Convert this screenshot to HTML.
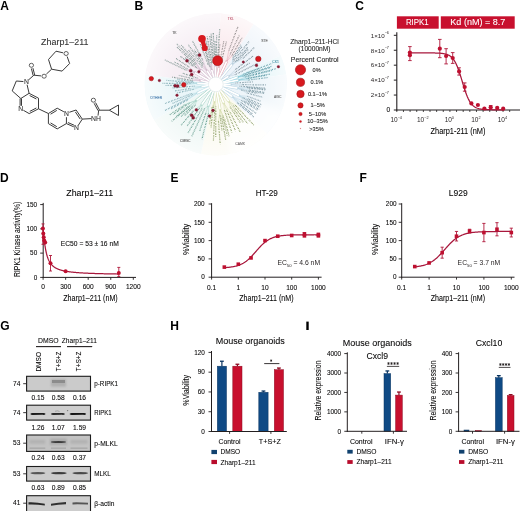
<!DOCTYPE html>
<html><head><meta charset="utf-8"><style>
html,body{margin:0;padding:0;background:#fff;}
svg{display:block;will-change:transform;}
text{font-family:"Liberation Sans",sans-serif;}
</style></head><body>
<svg width="520" height="511" viewBox="0 0 520 511">
<rect width="520" height="511" fill="#fff"/>
<text x="0.30" y="9.90" font-size="12" font-weight="bold" fill="#000" >A</text>
<text x="134.40" y="10.10" font-size="12" font-weight="bold" fill="#000" >B</text>
<text x="355.30" y="10.30" font-size="12" font-weight="bold" fill="#000" >C</text>
<text x="0.00" y="182.30" font-size="12" font-weight="bold" fill="#000" >D</text>
<text x="170.40" y="182.00" font-size="12" font-weight="bold" fill="#000" >E</text>
<text x="359.60" y="182.00" font-size="12" font-weight="bold" fill="#000" >F</text>
<text x="0.20" y="330.10" font-size="12" font-weight="bold" fill="#000" >G</text>
<text x="170.20" y="330.10" font-size="12" font-weight="bold" fill="#000" >H</text>
<rect x="306.30" y="321.60" width="2.40" height="8.40" fill="#000" />
<text x="41.10" y="45.30" font-size="9" textLength="47.40" lengthAdjust="spacingAndGlyphs" fill="#333" stroke="#333" stroke-width="0.08" >Zharp1–211</text>
<line x1="56.00" y1="51.20" x2="62.98" y2="52.79" stroke="#303030" stroke-width="0.95" />
<line x1="67.16" y1="56.52" x2="69.60" y2="63.50" stroke="#303030" stroke-width="0.95" />
<line x1="69.60" y1="63.50" x2="62.10" y2="71.10" stroke="#303030" stroke-width="0.95" />
<line x1="62.10" y1="71.10" x2="51.60" y2="69.20" stroke="#303030" stroke-width="0.95" />
<line x1="51.60" y1="69.20" x2="48.50" y2="59.50" stroke="#303030" stroke-width="0.95" />
<line x1="48.50" y1="59.50" x2="56.00" y2="51.20" stroke="#303030" stroke-width="0.95" />
<line x1="51.60" y1="69.20" x2="46.37" y2="74.08" stroke="#303030" stroke-width="0.95" />
<line x1="41.01" y1="75.90" x2="33.90" y2="75.20" stroke="#303030" stroke-width="0.95" />
<line x1="33.12" y1="75.40" x2="31.38" y2="68.50" stroke="#303030" stroke-width="0.95" />
<line x1="34.68" y1="75.00" x2="32.93" y2="68.11" stroke="#303030" stroke-width="0.95" />
<line x1="33.90" y1="75.20" x2="28.65" y2="79.82" stroke="#303030" stroke-width="0.95" />
<line x1="23.41" y1="81.56" x2="16.30" y2="81.00" stroke="#303030" stroke-width="0.95" />
<line x1="16.30" y1="81.00" x2="12.20" y2="90.90" stroke="#303030" stroke-width="0.95" />
<line x1="12.20" y1="90.90" x2="20.80" y2="98.50" stroke="#303030" stroke-width="0.95" />
<line x1="20.80" y1="98.50" x2="29.10" y2="93.30" stroke="#303030" stroke-width="0.95" />
<line x1="29.10" y1="93.30" x2="27.09" y2="84.72" stroke="#303030" stroke-width="0.95" />
<line x1="29.10" y1="93.30" x2="38.50" y2="98.20" stroke="#303030" stroke-width="0.95" />
<line x1="29.64" y1="95.50" x2="36.38" y2="99.01" stroke="#303030" stroke-width="0.95" />
<line x1="38.50" y1="98.20" x2="38.50" y2="108.80" stroke="#303030" stroke-width="0.95" />
<line x1="38.50" y1="108.80" x2="29.20" y2="113.60" stroke="#303030" stroke-width="0.95" />
<line x1="36.39" y1="107.98" x2="29.75" y2="111.40" stroke="#303030" stroke-width="0.95" />
<line x1="29.20" y1="113.60" x2="23.40" y2="110.29" stroke="#303030" stroke-width="0.95" />
<line x1="20.10" y1="105.80" x2="20.10" y2="98.50" stroke="#303030" stroke-width="0.95" />
<line x1="21.50" y1="105.80" x2="21.50" y2="98.50" stroke="#303030" stroke-width="0.95" />
<line x1="38.50" y1="108.80" x2="48.40" y2="113.50" stroke="#303030" stroke-width="0.95" />
<line x1="48.40" y1="113.50" x2="57.20" y2="108.20" stroke="#303030" stroke-width="0.95" />
<line x1="50.56" y1="114.18" x2="56.79" y2="110.43" stroke="#303030" stroke-width="0.95" />
<line x1="57.20" y1="108.20" x2="63.86" y2="111.78" stroke="#303030" stroke-width="0.95" />
<line x1="66.46" y1="117.20" x2="66.40" y2="123.60" stroke="#303030" stroke-width="0.95" />
<line x1="66.40" y1="123.60" x2="57.20" y2="128.90" stroke="#303030" stroke-width="0.95" />
<line x1="57.20" y1="128.90" x2="48.40" y2="123.60" stroke="#303030" stroke-width="0.95" />
<line x1="56.79" y1="126.67" x2="50.56" y2="122.92" stroke="#303030" stroke-width="0.95" />
<line x1="48.40" y1="123.60" x2="48.40" y2="113.50" stroke="#303030" stroke-width="0.95" />
<line x1="69.35" y1="112.25" x2="76.10" y2="110.00" stroke="#303030" stroke-width="0.95" />
<line x1="76.10" y1="110.00" x2="82.30" y2="119.10" stroke="#303030" stroke-width="0.95" />
<line x1="75.37" y1="111.95" x2="80.22" y2="119.07" stroke="#303030" stroke-width="0.95" />
<line x1="82.30" y1="119.10" x2="78.14" y2="125.49" stroke="#303030" stroke-width="0.95" />
<line x1="73.75" y1="126.80" x2="66.40" y2="123.60" stroke="#303030" stroke-width="0.95" />
<line x1="74.21" y1="125.26" x2="67.96" y2="122.53" stroke="#303030" stroke-width="0.95" />
<line x1="82.30" y1="119.10" x2="91.30" y2="118.60" stroke="#303030" stroke-width="0.95" />
<line x1="98.00" y1="115.60" x2="98.70" y2="110.20" stroke="#303030" stroke-width="0.95" />
<line x1="97.99" y1="110.57" x2="94.14" y2="103.31" stroke="#303030" stroke-width="0.95" />
<line x1="99.41" y1="109.83" x2="95.56" y2="102.56" stroke="#303030" stroke-width="0.95" />
<line x1="98.70" y1="110.20" x2="109.30" y2="110.20" stroke="#303030" stroke-width="0.95" />
<line x1="109.30" y1="110.20" x2="118.50" y2="105.00" stroke="#303030" stroke-width="0.95" />
<line x1="118.50" y1="105.00" x2="118.50" y2="115.50" stroke="#303030" stroke-width="0.95" />
<line x1="118.50" y1="115.50" x2="109.30" y2="110.20" stroke="#303030" stroke-width="0.95" />
<text x="26.40" y="84.15" font-size="6.8" text-anchor="middle" fill="#333" stroke="#333" stroke-width="0.08" >N</text>
<text x="20.80" y="111.15" font-size="6.8" text-anchor="middle" fill="#333" stroke="#333" stroke-width="0.08" >N</text>
<text x="66.50" y="115.55" font-size="6.8" text-anchor="middle" fill="#333" stroke="#333" stroke-width="0.08" >N</text>
<text x="76.50" y="130.35" font-size="6.8" text-anchor="middle" fill="#333" stroke="#333" stroke-width="0.08" >N</text>
<ellipse cx="66.10" cy="53.50" rx="2.15" ry="2.0" fill="none" stroke="#3a3a3a" stroke-width="0.8"/>
<ellipse cx="31.40" cy="65.30" rx="2.15" ry="2.0" fill="none" stroke="#3a3a3a" stroke-width="0.8"/>
<ellipse cx="44.10" cy="76.20" rx="2.15" ry="2.0" fill="none" stroke="#3a3a3a" stroke-width="0.8"/>
<ellipse cx="93.40" cy="100.20" rx="2.15" ry="2.0" fill="none" stroke="#3a3a3a" stroke-width="0.8"/>
<text x="96.00" y="120.95" font-size="6.8" text-anchor="middle" fill="#333" stroke="#333" stroke-width="0.08" >NH</text>
<rect x="396.90" y="16.30" width="41.80" height="12.40" fill="#c8102e" />
<rect x="440.80" y="16.30" width="73.90" height="12.40" fill="#c8102e" />
<text x="417.30" y="25.47" font-size="8.9" text-anchor="middle" textLength="22.80" lengthAdjust="spacingAndGlyphs" fill="#fff" stroke="#fff" stroke-width="0.08" >RIPK1</text>
<text x="477.80" y="25.47" font-size="8.9" text-anchor="middle" textLength="54.90" lengthAdjust="spacingAndGlyphs" fill="#fff" stroke="#fff" stroke-width="0.08" >Kd (nM) = 8.7</text>
<line x1="396.80" y1="32.30" x2="396.80" y2="110.50" stroke="#231f20" stroke-width="1.1" />
<line x1="396.30" y1="110.00" x2="520.00" y2="110.00" stroke="#231f20" stroke-width="1.1" />
<line x1="393.80" y1="35.30" x2="396.80" y2="35.30" stroke="#231f20" stroke-width="1.0" />
<text x="389.0" y="37.60" font-size="6.2" text-anchor="end" fill="#231f20">1×10<tspan font-size="3.8" dy="-3.3">−6</tspan></text>
<line x1="393.80" y1="50.24" x2="396.80" y2="50.24" stroke="#231f20" stroke-width="1.0" />
<text x="389.0" y="52.54" font-size="6.2" text-anchor="end" fill="#231f20">8×10<tspan font-size="3.8" dy="-3.3">−7</tspan></text>
<line x1="393.80" y1="65.18" x2="396.80" y2="65.18" stroke="#231f20" stroke-width="1.0" />
<text x="389.0" y="67.48" font-size="6.2" text-anchor="end" fill="#231f20">6×10<tspan font-size="3.8" dy="-3.3">−7</tspan></text>
<line x1="393.80" y1="80.12" x2="396.80" y2="80.12" stroke="#231f20" stroke-width="1.0" />
<text x="389.0" y="82.42" font-size="6.2" text-anchor="end" fill="#231f20">4×10<tspan font-size="3.8" dy="-3.3">−7</tspan></text>
<line x1="393.80" y1="95.06" x2="396.80" y2="95.06" stroke="#231f20" stroke-width="1.0" />
<text x="389.0" y="97.36" font-size="6.2" text-anchor="end" fill="#231f20">2×10<tspan font-size="3.8" dy="-3.3">−7</tspan></text>
<line x1="393.80" y1="110.00" x2="396.80" y2="110.00" stroke="#231f20" stroke-width="1.0" />
<text x="390.20" y="111.74" font-size="6.5" text-anchor="end" stroke="#231f20" stroke-width="0.08" >0</text>
<line x1="396.80" y1="110.00" x2="396.80" y2="112.00" stroke="#231f20" stroke-width="0.8" />
<line x1="403.44" y1="110.00" x2="403.44" y2="112.00" stroke="#231f20" stroke-width="0.8" />
<line x1="410.08" y1="110.00" x2="410.08" y2="112.00" stroke="#231f20" stroke-width="0.8" />
<line x1="416.72" y1="110.00" x2="416.72" y2="112.00" stroke="#231f20" stroke-width="0.8" />
<line x1="423.36" y1="110.00" x2="423.36" y2="112.00" stroke="#231f20" stroke-width="0.8" />
<line x1="430.00" y1="110.00" x2="430.00" y2="112.00" stroke="#231f20" stroke-width="0.8" />
<line x1="436.64" y1="110.00" x2="436.64" y2="112.00" stroke="#231f20" stroke-width="0.8" />
<line x1="443.28" y1="110.00" x2="443.28" y2="112.00" stroke="#231f20" stroke-width="0.8" />
<line x1="449.92" y1="110.00" x2="449.92" y2="112.00" stroke="#231f20" stroke-width="0.8" />
<line x1="456.56" y1="110.00" x2="456.56" y2="112.00" stroke="#231f20" stroke-width="0.8" />
<line x1="463.20" y1="110.00" x2="463.20" y2="112.00" stroke="#231f20" stroke-width="0.8" />
<line x1="469.84" y1="110.00" x2="469.84" y2="112.00" stroke="#231f20" stroke-width="0.8" />
<line x1="476.48" y1="110.00" x2="476.48" y2="112.00" stroke="#231f20" stroke-width="0.8" />
<line x1="483.12" y1="110.00" x2="483.12" y2="112.00" stroke="#231f20" stroke-width="0.8" />
<line x1="489.76" y1="110.00" x2="489.76" y2="112.00" stroke="#231f20" stroke-width="0.8" />
<line x1="496.40" y1="110.00" x2="496.40" y2="112.00" stroke="#231f20" stroke-width="0.8" />
<line x1="503.04" y1="110.00" x2="503.04" y2="112.00" stroke="#231f20" stroke-width="0.8" />
<line x1="509.68" y1="110.00" x2="509.68" y2="112.00" stroke="#231f20" stroke-width="0.8" />
<text x="396.20" y="121.70" font-size="6.5" text-anchor="middle" fill="#231f20">10<tspan font-size="3.8" dy="-3.1">−4</tspan></text>
<text x="422.76" y="121.70" font-size="6.5" text-anchor="middle" fill="#231f20">10<tspan font-size="3.8" dy="-3.1">−2</tspan></text>
<text x="449.32" y="121.70" font-size="6.5" text-anchor="middle" fill="#231f20">10<tspan font-size="3.8" dy="-3.1">0</tspan></text>
<text x="475.88" y="121.70" font-size="6.5" text-anchor="middle" fill="#231f20">10<tspan font-size="3.8" dy="-3.1">2</tspan></text>
<text x="502.44" y="121.70" font-size="6.5" text-anchor="middle" fill="#231f20">10<tspan font-size="3.8" dy="-3.1">4</tspan></text>
<text x="458.00" y="133.73" font-size="8.2" text-anchor="middle" textLength="55.00" lengthAdjust="spacingAndGlyphs" stroke="#231f20" stroke-width="0.08" >Zharp1-211 (nM)</text>
<path d="M409.00,52.90 L409.68,52.90 L410.36,52.90 L411.04,52.90 L411.71,52.90 L412.39,52.90 L413.07,52.90 L413.75,52.90 L414.43,52.90 L415.11,52.90 L415.79,52.90 L416.46,52.90 L417.14,52.90 L417.82,52.90 L418.50,52.90 L419.18,52.90 L419.86,52.90 L420.54,52.90 L421.21,52.90 L421.89,52.90 L422.57,52.91 L423.25,52.91 L423.93,52.91 L424.61,52.91 L425.29,52.91 L425.96,52.91 L426.64,52.91 L427.32,52.92 L428.00,52.92 L428.68,52.92 L429.36,52.93 L430.04,52.93 L430.71,52.94 L431.39,52.94 L432.07,52.95 L432.75,52.96 L433.43,52.97 L434.11,52.98 L434.79,52.99 L435.46,53.01 L436.14,53.03 L436.82,53.05 L437.50,53.07 L438.18,53.10 L438.86,53.14 L439.54,53.18 L440.21,53.23 L440.89,53.28 L441.57,53.35 L442.25,53.42 L442.93,53.51 L443.61,53.62 L444.29,53.74 L444.96,53.88 L445.64,54.05 L446.32,54.24 L447.00,54.46 L447.68,54.73 L448.36,55.03 L449.04,55.38 L449.71,55.79 L450.39,56.26 L451.07,56.79 L451.75,57.41 L452.43,58.12 L453.11,58.93 L453.79,59.84 L454.46,60.87 L455.14,62.02 L455.82,63.31 L456.50,64.73 L457.18,66.29 L457.86,67.99 L458.54,69.82 L459.21,71.77 L459.89,73.83 L460.57,75.98 L461.25,78.19 L461.93,80.44 L462.61,82.71 L463.29,84.95 L463.96,87.16 L464.64,89.29 L465.32,91.33 L466.00,93.25 L466.68,95.06 L467.36,96.73 L468.04,98.26 L468.71,99.66 L469.39,100.92 L470.07,102.05 L470.75,103.05 L471.43,103.94 L472.11,104.73 L472.79,105.42 L473.46,106.02 L474.14,106.54 L474.82,107.00 L475.50,107.39 L476.18,107.74 L476.86,108.03 L477.54,108.28 L478.21,108.50 L478.89,108.69 L479.57,108.85 L480.25,108.99 L480.93,109.11 L481.61,109.21 L482.29,109.29 L482.96,109.37 L483.64,109.43 L484.32,109.48 L485.00,109.53 L485.68,109.57 L486.36,109.60 L487.04,109.63 L487.71,109.66 L488.39,109.68 L489.07,109.70 L489.75,109.71 L490.43,109.72 L491.11,109.74 L491.79,109.75 L492.46,109.75 L493.14,109.76 L493.82,109.77 L494.50,109.77 L495.18,109.78 L495.86,109.78 L496.54,109.78 L497.21,109.78 L497.89,109.79 L498.57,109.79 L499.25,109.79 L499.93,109.79 L500.61,109.79 L501.29,109.79 L501.96,109.79 L502.64,109.80 L503.32,109.80 L504.00,109.80" stroke="#a8173c" stroke-width="1.25" fill="none" />
<line x1="409.90" y1="46.60" x2="409.90" y2="60.60" stroke="#b0173a" stroke-width="0.9" />
<line x1="408.10" y1="46.60" x2="411.70" y2="46.60" stroke="#b0173a" stroke-width="0.9" />
<line x1="408.10" y1="60.60" x2="411.70" y2="60.60" stroke="#b0173a" stroke-width="0.9" />
<circle cx="409.90" cy="52.60" r="2.10" fill="#be1030" />
<circle cx="409.90" cy="55.20" r="2.10" fill="#be1030" />
<line x1="439.80" y1="39.40" x2="439.80" y2="57.70" stroke="#b0173a" stroke-width="0.9" />
<line x1="438.00" y1="39.40" x2="441.60" y2="39.40" stroke="#b0173a" stroke-width="0.9" />
<line x1="438.00" y1="57.70" x2="441.60" y2="57.70" stroke="#b0173a" stroke-width="0.9" />
<circle cx="439.80" cy="48.70" r="2.10" fill="#be1030" />
<line x1="446.10" y1="48.70" x2="446.10" y2="63.90" stroke="#b0173a" stroke-width="0.9" />
<line x1="444.30" y1="48.70" x2="447.90" y2="48.70" stroke="#b0173a" stroke-width="0.9" />
<line x1="444.30" y1="63.90" x2="447.90" y2="63.90" stroke="#b0173a" stroke-width="0.9" />
<circle cx="446.10" cy="56.00" r="2.10" fill="#be1030" />
<line x1="452.70" y1="52.60" x2="452.70" y2="63.40" stroke="#b0173a" stroke-width="0.9" />
<line x1="450.90" y1="52.60" x2="454.50" y2="52.60" stroke="#b0173a" stroke-width="0.9" />
<line x1="450.90" y1="63.40" x2="454.50" y2="63.40" stroke="#b0173a" stroke-width="0.9" />
<circle cx="452.70" cy="58.00" r="2.10" fill="#be1030" />
<line x1="459.10" y1="67.80" x2="459.10" y2="75.10" stroke="#b0173a" stroke-width="0.9" />
<line x1="457.30" y1="67.80" x2="460.90" y2="67.80" stroke="#b0173a" stroke-width="0.9" />
<line x1="457.30" y1="75.10" x2="460.90" y2="75.10" stroke="#b0173a" stroke-width="0.9" />
<circle cx="459.10" cy="71.40" r="2.10" fill="#be1030" />
<line x1="464.70" y1="82.90" x2="464.70" y2="91.20" stroke="#b0173a" stroke-width="0.9" />
<line x1="462.90" y1="82.90" x2="466.50" y2="82.90" stroke="#b0173a" stroke-width="0.9" />
<line x1="462.90" y1="91.20" x2="466.50" y2="91.20" stroke="#b0173a" stroke-width="0.9" />
<circle cx="464.70" cy="87.00" r="2.10" fill="#be1030" />
<circle cx="471.40" cy="103.40" r="2.10" fill="#be1030" />
<circle cx="477.90" cy="105.00" r="2.10" fill="#be1030" />
<circle cx="484.40" cy="108.50" r="2.10" fill="#be1030" />
<line x1="490.70" y1="105.50" x2="490.70" y2="109.00" stroke="#b0173a" stroke-width="0.9" />
<line x1="488.90" y1="105.50" x2="492.50" y2="105.50" stroke="#b0173a" stroke-width="0.9" />
<line x1="488.90" y1="109.00" x2="492.50" y2="109.00" stroke="#b0173a" stroke-width="0.9" />
<circle cx="490.70" cy="107.30" r="2.10" fill="#be1030" />
<circle cx="497.20" cy="107.90" r="2.10" fill="#be1030" />
<circle cx="503.20" cy="108.70" r="2.10" fill="#be1030" />
<text x="89.70" y="196.10" font-size="9" text-anchor="middle" textLength="46.80" lengthAdjust="spacingAndGlyphs" stroke="#231f20" stroke-width="0.08" >Zharp1–211</text>
<line x1="43.20" y1="202.90" x2="43.20" y2="277.90" stroke="#231f20" stroke-width="1.0" />
<line x1="42.70" y1="277.40" x2="136.00" y2="277.40" stroke="#231f20" stroke-width="1.0" />
<line x1="40.20" y1="204.57" x2="43.20" y2="204.57" stroke="#231f20" stroke-width="0.9" />
<text x="37.20" y="206.78" font-size="6.4" text-anchor="end" stroke="#231f20" stroke-width="0.08" >150</text>
<line x1="40.20" y1="228.85" x2="43.20" y2="228.85" stroke="#231f20" stroke-width="0.9" />
<text x="37.20" y="231.06" font-size="6.4" text-anchor="end" stroke="#231f20" stroke-width="0.08" >100</text>
<line x1="40.20" y1="253.12" x2="43.20" y2="253.12" stroke="#231f20" stroke-width="0.9" />
<text x="37.20" y="255.33" font-size="6.4" text-anchor="end" stroke="#231f20" stroke-width="0.08" >50</text>
<line x1="40.20" y1="277.40" x2="43.20" y2="277.40" stroke="#231f20" stroke-width="0.9" />
<text x="37.20" y="279.61" font-size="6.4" text-anchor="end" stroke="#231f20" stroke-width="0.08" >0</text>
<line x1="43.10" y1="277.40" x2="43.10" y2="279.80" stroke="#231f20" stroke-width="0.9" />
<text x="43.10" y="288.58" font-size="6.6" text-anchor="middle" stroke="#231f20" stroke-width="0.08" >0</text>
<line x1="65.65" y1="277.40" x2="65.65" y2="279.80" stroke="#231f20" stroke-width="0.9" />
<text x="65.65" y="288.58" font-size="6.6" text-anchor="middle" stroke="#231f20" stroke-width="0.08" >300</text>
<line x1="88.20" y1="277.40" x2="88.20" y2="279.80" stroke="#231f20" stroke-width="0.9" />
<text x="88.20" y="288.58" font-size="6.6" text-anchor="middle" stroke="#231f20" stroke-width="0.08" >600</text>
<line x1="110.75" y1="277.40" x2="110.75" y2="279.80" stroke="#231f20" stroke-width="0.9" />
<text x="110.75" y="288.58" font-size="6.6" text-anchor="middle" stroke="#231f20" stroke-width="0.08" >900</text>
<line x1="133.30" y1="277.40" x2="133.30" y2="279.80" stroke="#231f20" stroke-width="0.9" />
<text x="133.30" y="288.58" font-size="6.6" text-anchor="middle" stroke="#231f20" stroke-width="0.08" >1200</text>
<text x="90.50" y="301.43" font-size="8.2" text-anchor="middle" textLength="54.50" lengthAdjust="spacingAndGlyphs" stroke="#231f20" stroke-width="0.08" >Zharp1–211 (nM)</text>
<text x="17.00" y="242.20" font-size="8.4" text-anchor="middle" textLength="75.20" lengthAdjust="spacingAndGlyphs" stroke="#231f20" stroke-width="0.08" transform="rotate(-90 17.00 239.30)" >RIPK1 Kinase activity(%)</text>
<text x="60.80" y="245.95" font-size="6.8" textLength="58.00" lengthAdjust="spacingAndGlyphs" stroke="#231f20" stroke-width="0.08" >EC50 = 53 ± 16 nM</text>
<path d="M43.10,228.85 L43.10,228.85 L43.10,228.86 L43.11,228.88 L43.11,228.92 L43.12,228.97 L43.13,229.03 L43.14,229.11 L43.15,229.21 L43.17,229.33 L43.18,229.47 L43.20,229.62 L43.22,229.80 L43.24,230.00 L43.26,230.21 L43.29,230.45 L43.31,230.71 L43.34,230.98 L43.37,231.28 L43.40,231.60 L43.43,231.93 L43.47,232.29 L43.50,232.66 L43.54,233.05 L43.58,233.45 L43.62,233.88 L43.66,234.31 L43.71,234.77 L43.75,235.23 L43.80,235.71 L43.85,236.20 L43.90,236.70 L43.96,237.20 L44.01,237.72 L44.07,238.25 L44.12,238.78 L44.18,239.31 L44.24,239.86 L44.31,240.40 L44.37,240.95 L44.44,241.50 L44.50,242.05 L44.57,242.60 L44.64,243.15 L44.72,243.70 L44.79,244.25 L44.87,244.80 L44.95,245.34 L45.02,245.88 L45.11,246.41 L45.19,246.94 L45.27,247.47 L45.36,247.99 L45.45,248.50 L45.54,249.01 L45.63,249.51 L45.72,250.01 L45.81,250.49 L45.91,250.97 L46.01,251.45 L46.11,251.91 L46.21,252.37 L46.31,252.82 L46.41,253.26 L46.52,253.69 L46.63,254.12 L46.74,254.54 L46.85,254.95 L46.96,255.35 L47.08,255.74 L47.19,256.13 L47.31,256.51 L47.43,256.88 L47.55,257.24 L47.67,257.60 L47.80,257.94 L47.92,258.28 L48.05,258.62 L48.18,258.94 L48.31,259.26 L48.45,259.57 L48.58,259.87 L48.72,260.17 L48.85,260.46 L48.99,260.75 L49.13,261.03 L49.28,261.30 L49.42,261.56 L49.57,261.82 L49.72,262.08 L49.87,262.32 L50.02,262.56 L50.17,262.80 L50.32,263.03 L50.48,263.26 L50.64,263.48 L50.80,263.69 L50.96,263.90 L51.12,264.11 L51.29,264.31 L51.45,264.51 L51.62,264.70 L51.79,264.89 L51.96,265.07 L52.13,265.25 L52.31,265.42 L52.48,265.60 L52.66,265.76 L52.84,265.93 L53.02,266.09 L53.21,266.24 L53.39,266.40 L53.58,266.54 L53.76,266.69 L53.95,266.83 L54.15,266.97 L54.34,267.11 L54.53,267.24 L54.73,267.37 L54.93,267.50 L55.13,267.63 L55.33,267.75 L55.53,267.87 L55.74,267.98 L55.94,268.10 L56.15,268.21 L56.36,268.32 L56.57,268.43 L56.78,268.53 L57.00,268.64 L57.22,268.74 L57.43,268.83 L57.65,268.93 L57.87,269.03 L58.10,269.12 L58.32,269.21 L58.55,269.30 L58.78,269.38 L59.01,269.47 L59.24,269.55 L59.47,269.63 L59.71,269.71 L59.94,269.79 L60.18,269.87 L60.42,269.95 L60.66,270.02 L60.90,270.09 L61.15,270.16 L61.39,270.23 L61.64,270.30 L61.89,270.37 L62.14,270.43 L62.40,270.50 L62.65,270.56 L62.91,270.62 L63.17,270.68 L63.43,270.74 L63.69,270.80 L63.95,270.86 L64.22,270.92 L64.48,270.97 L64.75,271.03 L65.02,271.08 L65.29,271.13 L65.56,271.18 L65.84,271.23 L66.12,271.28 L66.39,271.33 L66.67,271.38 L66.95,271.43 L67.24,271.47 L67.52,271.52 L67.81,271.56 L68.10,271.61 L68.39,271.65 L68.68,271.69 L68.97,271.73 L69.27,271.77 L69.56,271.81 L69.86,271.85 L70.16,271.89 L70.46,271.93 L70.77,271.97 L71.07,272.00 L71.38,272.04 L71.69,272.07 L72.00,272.11 L72.31,272.14 L72.62,272.18 L72.93,272.21 L73.25,272.24 L73.57,272.28 L73.89,272.31 L74.21,272.34 L74.53,272.37 L74.86,272.40 L75.19,272.43 L75.51,272.46 L75.84,272.49 L76.18,272.52 L76.51,272.54 L76.84,272.57 L77.18,272.60 L77.52,272.62 L77.86,272.65 L78.20,272.68 L78.54,272.70 L78.89,272.73 L79.24,272.75 L79.58,272.78 L79.93,272.80 L80.28,272.82 L80.64,272.85 L80.99,272.87 L81.35,272.89 L81.71,272.91 L82.07,272.93 L82.43,272.96 L82.79,272.98 L83.16,273.00 L83.52,273.02 L83.89,273.04 L84.26,273.06 L84.63,273.08 L85.01,273.10 L85.38,273.12 L85.76,273.14 L86.14,273.15 L86.52,273.17 L86.90,273.19 L87.28,273.21 L87.67,273.23 L88.06,273.24 L88.44,273.26 L88.83,273.28 L89.23,273.29 L89.62,273.31 L90.01,273.33 L90.41,273.34 L90.81,273.36 L91.21,273.37 L91.61,273.39 L92.01,273.40 L92.42,273.42 L92.83,273.43 L93.23,273.45 L93.64,273.46 L94.06,273.48 L94.47,273.49 L94.88,273.51 L95.30,273.52 L95.72,273.53 L96.14,273.55 L96.56,273.56 L96.99,273.57 L97.41,273.58 L97.84,273.60 L98.27,273.61 L98.70,273.62 L99.13,273.63 L99.56,273.65 L100.00,273.66 L100.43,273.67 L100.87,273.68 L101.31,273.69 L101.75,273.70 L102.20,273.71 L102.64,273.73 L103.09,273.74 L103.54,273.75 L103.99,273.76 L104.44,273.77 L104.89,273.78 L105.35,273.79 L105.81,273.80 L106.26,273.81 L106.72,273.82 L107.19,273.83 L107.65,273.84 L108.11,273.85 L108.58,273.86 L109.05,273.87 L109.52,273.87 L109.99,273.88 L110.47,273.89 L110.94,273.90 L111.42,273.91 L111.90,273.92 L112.38,273.93 L112.86,273.94 L113.34,273.94 L113.83,273.95 L114.31,273.96 L114.80,273.97 L115.29,273.98 L115.79,273.99 L116.28,273.99 L116.77,274.00 L117.27,274.01 L117.77,274.02 L118.27,274.02" stroke="#a8173c" stroke-width="1.25" fill="none" />
<line x1="43.00" y1="223.90" x2="43.00" y2="244.30" stroke="#b0173a" stroke-width="0.9" />
<line x1="41.50" y1="223.90" x2="44.50" y2="223.90" stroke="#b0173a" stroke-width="0.9" />
<line x1="41.50" y1="244.30" x2="44.50" y2="244.30" stroke="#b0173a" stroke-width="0.9" />
<line x1="50.50" y1="255.50" x2="50.50" y2="271.00" stroke="#b0173a" stroke-width="0.9" />
<line x1="49.00" y1="255.50" x2="52.00" y2="255.50" stroke="#b0173a" stroke-width="0.9" />
<line x1="49.00" y1="271.00" x2="52.00" y2="271.00" stroke="#b0173a" stroke-width="0.9" />
<line x1="118.80" y1="267.40" x2="118.80" y2="276.50" stroke="#b0173a" stroke-width="0.9" />
<line x1="117.30" y1="267.40" x2="120.30" y2="267.40" stroke="#b0173a" stroke-width="0.9" />
<line x1="117.30" y1="276.50" x2="120.30" y2="276.50" stroke="#b0173a" stroke-width="0.9" />
<circle cx="42.90" cy="228.40" r="2.00" fill="#be1030" />
<circle cx="43.30" cy="233.50" r="2.00" fill="#be1030" />
<circle cx="43.70" cy="237.30" r="2.00" fill="#be1030" />
<circle cx="44.20" cy="240.50" r="2.00" fill="#be1030" />
<circle cx="45.20" cy="242.40" r="2.00" fill="#be1030" />
<circle cx="50.50" cy="263.20" r="2.00" fill="#be1030" />
<circle cx="65.60" cy="271.30" r="2.00" fill="#be1030" />
<circle cx="118.80" cy="273.10" r="2.00" fill="#be1030" />
<text x="266.80" y="195.66" font-size="9" text-anchor="middle" textLength="22.20" lengthAdjust="spacingAndGlyphs" stroke="#231f20" stroke-width="0.08" >HT-29</text>
<line x1="211.60" y1="203.20" x2="211.60" y2="277.70" stroke="#231f20" stroke-width="1.0" />
<line x1="211.10" y1="277.20" x2="321.60" y2="277.20" stroke="#231f20" stroke-width="1.0" />
<line x1="208.60" y1="277.20" x2="211.60" y2="277.20" stroke="#231f20" stroke-width="0.9" />
<text x="204.70" y="279.41" font-size="6.4" text-anchor="end" stroke="#231f20" stroke-width="0.08" >0</text>
<line x1="208.60" y1="258.90" x2="211.60" y2="258.90" stroke="#231f20" stroke-width="0.9" />
<text x="204.70" y="261.11" font-size="6.4" text-anchor="end" stroke="#231f20" stroke-width="0.08" >50</text>
<line x1="208.60" y1="240.60" x2="211.60" y2="240.60" stroke="#231f20" stroke-width="0.9" />
<text x="204.70" y="242.81" font-size="6.4" text-anchor="end" stroke="#231f20" stroke-width="0.08" >100</text>
<line x1="208.60" y1="222.30" x2="211.60" y2="222.30" stroke="#231f20" stroke-width="0.9" />
<text x="204.70" y="224.51" font-size="6.4" text-anchor="end" stroke="#231f20" stroke-width="0.08" >150</text>
<line x1="208.60" y1="204.00" x2="211.60" y2="204.00" stroke="#231f20" stroke-width="0.9" />
<text x="204.70" y="206.21" font-size="6.4" text-anchor="end" stroke="#231f20" stroke-width="0.08" >200</text>
<line x1="211.60" y1="277.20" x2="211.60" y2="279.60" stroke="#231f20" stroke-width="0.9" />
<text x="211.60" y="290.18" font-size="6.6" text-anchor="middle" stroke="#231f20" stroke-width="0.08" >0.1</text>
<line x1="238.30" y1="277.20" x2="238.30" y2="279.60" stroke="#231f20" stroke-width="0.9" />
<text x="238.30" y="290.18" font-size="6.6" text-anchor="middle" stroke="#231f20" stroke-width="0.08" >1</text>
<line x1="265.00" y1="277.20" x2="265.00" y2="279.60" stroke="#231f20" stroke-width="0.9" />
<text x="265.00" y="290.18" font-size="6.6" text-anchor="middle" stroke="#231f20" stroke-width="0.08" >10</text>
<line x1="291.70" y1="277.20" x2="291.70" y2="279.60" stroke="#231f20" stroke-width="0.9" />
<text x="291.70" y="290.18" font-size="6.6" text-anchor="middle" stroke="#231f20" stroke-width="0.08" >100</text>
<line x1="318.40" y1="277.20" x2="318.40" y2="279.60" stroke="#231f20" stroke-width="0.9" />
<text x="318.40" y="290.18" font-size="6.6" text-anchor="middle" stroke="#231f20" stroke-width="0.08" >1000</text>
<text x="266.40" y="301.23" font-size="8.2" text-anchor="middle" textLength="54.20" lengthAdjust="spacingAndGlyphs" stroke="#231f20" stroke-width="0.08" >Zharp1–211 (nM)</text>
<text x="186.00" y="242.50" font-size="9.0" text-anchor="middle" textLength="31.20" lengthAdjust="spacingAndGlyphs" stroke="#231f20" stroke-width="0.08" transform="rotate(-90 186.00 239.40)" >%Viability</text>
<text x="277.40" y="265.00" font-size="6.8" fill="#231f20">EC<tspan font-size="4.2" dy="1.6">50</tspan><tspan dy="-1.6"> = 4.6 nM</tspan></text>
<path d="M224.34,267.63 L225.12,267.59 L225.91,267.53 L226.69,267.48 L227.47,267.41 L228.26,267.34 L229.04,267.26 L229.83,267.17 L230.61,267.08 L231.39,266.97 L232.18,266.85 L232.96,266.72 L233.75,266.57 L234.53,266.41 L235.31,266.24 L236.10,266.04 L236.88,265.83 L237.66,265.59 L238.45,265.33 L239.23,265.05 L240.02,264.74 L240.80,264.41 L241.58,264.04 L242.37,263.64 L243.15,263.21 L243.94,262.75 L244.72,262.25 L245.50,261.71 L246.29,261.14 L247.07,260.53 L247.85,259.88 L248.64,259.19 L249.42,258.47 L250.21,257.72 L250.99,256.93 L251.77,256.12 L252.56,255.27 L253.34,254.41 L254.13,253.53 L254.91,252.64 L255.69,251.74 L256.48,250.84 L257.26,249.95 L258.04,249.06 L258.83,248.18 L259.61,247.33 L260.40,246.49 L261.18,245.68 L261.96,244.90 L262.75,244.16 L263.53,243.44 L264.32,242.77 L265.10,242.13 L265.88,241.52 L266.67,240.96 L267.45,240.43 L268.23,239.94 L269.02,239.48 L269.80,239.06 L270.59,238.67 L271.37,238.31 L272.15,237.98 L272.94,237.68 L273.72,237.40 L274.50,237.15 L275.29,236.92 L276.07,236.71 L276.86,236.52 L277.64,236.34 L278.42,236.19 L279.21,236.04 L279.99,235.92 L280.78,235.80 L281.56,235.69 L282.34,235.60 L283.13,235.51 L283.91,235.44 L284.69,235.37 L285.48,235.30 L286.26,235.25 L287.05,235.20 L287.83,235.15 L288.61,235.11 L289.40,235.07 L290.18,235.04 L290.97,235.01 L291.75,234.98 L292.53,234.96 L293.32,234.94 L294.10,234.92 L294.88,234.90 L295.67,234.88 L296.45,234.87 L297.24,234.86 L298.02,234.84 L298.80,234.83 L299.59,234.83 L300.37,234.82 L301.16,234.81 L301.94,234.80 L302.72,234.80 L303.51,234.79 L304.29,234.79 L305.07,234.78 L305.86,234.78 L306.64,234.77 L307.43,234.77 L308.21,234.77 L308.99,234.77 L309.78,234.76 L310.56,234.76 L311.35,234.76 L312.13,234.76 L312.91,234.76 L313.70,234.76 L314.48,234.75 L315.26,234.75 L316.05,234.75 L316.83,234.75 L317.62,234.75 L318.40,234.75" stroke="#a8173c" stroke-width="1.25" fill="none" />
<rect x="222.54" y="265.30" width="3.60" height="3.60" fill="#be1030" />
<rect x="236.50" y="262.41" width="3.60" height="3.60" fill="#be1030" />
<rect x="249.24" y="256.11" width="3.60" height="3.60" fill="#be1030" />
<rect x="263.20" y="238.80" width="3.60" height="3.60" fill="#be1030" />
<rect x="275.94" y="234.41" width="3.60" height="3.60" fill="#be1030" />
<rect x="289.90" y="233.68" width="3.60" height="3.60" fill="#be1030" />
<line x1="304.44" y1="232.55" x2="304.44" y2="235.48" stroke="#b0173a" stroke-width="0.9" />
<line x1="302.84" y1="232.55" x2="306.04" y2="232.55" stroke="#b0173a" stroke-width="0.9" />
<line x1="302.84" y1="235.48" x2="306.04" y2="235.48" stroke="#b0173a" stroke-width="0.9" />
<rect x="302.64" y="232.21" width="3.60" height="3.60" fill="#be1030" />
<rect x="302.64" y="234.04" width="3.60" height="3.60" fill="#be1030" />
<line x1="318.40" y1="233.39" x2="318.40" y2="235.59" stroke="#b0173a" stroke-width="0.9" />
<line x1="316.80" y1="233.39" x2="320.00" y2="233.39" stroke="#b0173a" stroke-width="0.9" />
<line x1="316.80" y1="235.59" x2="320.00" y2="235.59" stroke="#b0173a" stroke-width="0.9" />
<rect x="316.60" y="232.69" width="3.60" height="3.60" fill="#be1030" />
<rect x="316.60" y="234.04" width="3.60" height="3.60" fill="#be1030" />
<text x="458.20" y="195.66" font-size="9" text-anchor="middle" textLength="18.90" lengthAdjust="spacingAndGlyphs" stroke="#231f20" stroke-width="0.08" >L929</text>
<line x1="401.70" y1="203.20" x2="401.70" y2="277.70" stroke="#231f20" stroke-width="1.0" />
<line x1="401.20" y1="277.20" x2="514.50" y2="277.20" stroke="#231f20" stroke-width="1.0" />
<line x1="398.70" y1="277.20" x2="401.70" y2="277.20" stroke="#231f20" stroke-width="0.9" />
<text x="396.50" y="279.41" font-size="6.4" text-anchor="end" stroke="#231f20" stroke-width="0.08" >0</text>
<line x1="398.70" y1="258.90" x2="401.70" y2="258.90" stroke="#231f20" stroke-width="0.9" />
<text x="396.50" y="261.11" font-size="6.4" text-anchor="end" stroke="#231f20" stroke-width="0.08" >50</text>
<line x1="398.70" y1="240.60" x2="401.70" y2="240.60" stroke="#231f20" stroke-width="0.9" />
<text x="396.50" y="242.81" font-size="6.4" text-anchor="end" stroke="#231f20" stroke-width="0.08" >100</text>
<line x1="398.70" y1="222.30" x2="401.70" y2="222.30" stroke="#231f20" stroke-width="0.9" />
<text x="396.50" y="224.51" font-size="6.4" text-anchor="end" stroke="#231f20" stroke-width="0.08" >150</text>
<line x1="398.70" y1="204.00" x2="401.70" y2="204.00" stroke="#231f20" stroke-width="0.9" />
<text x="396.50" y="206.21" font-size="6.4" text-anchor="end" stroke="#231f20" stroke-width="0.08" >200</text>
<line x1="401.70" y1="277.20" x2="401.70" y2="279.60" stroke="#231f20" stroke-width="0.9" />
<text x="401.70" y="290.18" font-size="6.6" text-anchor="middle" stroke="#231f20" stroke-width="0.08" >0.1</text>
<line x1="429.10" y1="277.20" x2="429.10" y2="279.60" stroke="#231f20" stroke-width="0.9" />
<text x="429.10" y="290.18" font-size="6.6" text-anchor="middle" stroke="#231f20" stroke-width="0.08" >1</text>
<line x1="456.50" y1="277.20" x2="456.50" y2="279.60" stroke="#231f20" stroke-width="0.9" />
<text x="456.50" y="290.18" font-size="6.6" text-anchor="middle" stroke="#231f20" stroke-width="0.08" >10</text>
<line x1="483.90" y1="277.20" x2="483.90" y2="279.60" stroke="#231f20" stroke-width="0.9" />
<text x="483.90" y="290.18" font-size="6.6" text-anchor="middle" stroke="#231f20" stroke-width="0.08" >100</text>
<line x1="511.30" y1="277.20" x2="511.30" y2="279.60" stroke="#231f20" stroke-width="0.9" />
<text x="511.30" y="290.18" font-size="6.6" text-anchor="middle" stroke="#231f20" stroke-width="0.08" >1000</text>
<text x="457.90" y="301.23" font-size="8.2" text-anchor="middle" textLength="54.20" lengthAdjust="spacingAndGlyphs" stroke="#231f20" stroke-width="0.08" >Zharp1–211 (nM)</text>
<text x="374.80" y="242.50" font-size="9.0" text-anchor="middle" textLength="31.20" lengthAdjust="spacingAndGlyphs" stroke="#231f20" stroke-width="0.08" transform="rotate(-90 374.80 239.40)" >%Viability</text>
<text x="457.60" y="265.00" font-size="6.8" fill="#231f20">EC<tspan font-size="4.2" dy="1.6">50</tspan><tspan dy="-1.6"> = 3.7 nM</tspan></text>
<path d="M414.77,266.87 L415.58,266.78 L416.38,266.69 L417.19,266.58 L417.99,266.47 L418.80,266.35 L419.60,266.21 L420.40,266.06 L421.21,265.89 L422.01,265.71 L422.82,265.52 L423.62,265.30 L424.43,265.06 L425.23,264.81 L426.03,264.53 L426.84,264.22 L427.64,263.89 L428.45,263.53 L429.25,263.14 L430.06,262.73 L430.86,262.28 L431.67,261.79 L432.47,261.28 L433.27,260.72 L434.08,260.13 L434.88,259.51 L435.69,258.85 L436.49,258.16 L437.30,257.43 L438.10,256.67 L438.90,255.87 L439.71,255.05 L440.51,254.21 L441.32,253.34 L442.12,252.45 L442.93,251.55 L443.73,250.64 L444.54,249.72 L445.34,248.80 L446.14,247.89 L446.95,246.98 L447.75,246.09 L448.56,245.21 L449.36,244.36 L450.17,243.53 L450.97,242.73 L451.78,241.95 L452.58,241.21 L453.38,240.51 L454.19,239.84 L454.99,239.20 L455.80,238.60 L456.60,238.04 L457.41,237.51 L458.21,237.01 L459.01,236.55 L459.82,236.12 L460.62,235.73 L461.43,235.36 L462.23,235.02 L463.04,234.71 L463.84,234.42 L464.65,234.15 L465.45,233.91 L466.25,233.69 L467.06,233.48 L467.86,233.30 L468.67,233.13 L469.47,232.97 L470.28,232.83 L471.08,232.70 L471.88,232.59 L472.69,232.48 L473.49,232.38 L474.30,232.29 L475.10,232.22 L475.91,232.14 L476.71,232.08 L477.52,232.02 L478.32,231.96 L479.12,231.91 L479.93,231.87 L480.73,231.83 L481.54,231.79 L482.34,231.76 L483.15,231.73 L483.95,231.70 L484.76,231.68 L485.56,231.66 L486.36,231.64 L487.17,231.62 L487.97,231.60 L488.78,231.59 L489.58,231.58 L490.39,231.56 L491.19,231.55 L491.99,231.54 L492.80,231.53 L493.60,231.53 L494.41,231.52 L495.21,231.51 L496.02,231.51 L496.82,231.50 L497.63,231.50 L498.43,231.49 L499.23,231.49 L500.04,231.48 L500.84,231.48 L501.65,231.48 L502.45,231.47 L503.26,231.47 L504.06,231.47 L504.86,231.47 L505.67,231.47 L506.47,231.46 L507.28,231.46 L508.08,231.46 L508.89,231.46 L509.69,231.46 L510.50,231.46 L511.30,231.46" stroke="#a8173c" stroke-width="1.25" fill="none" />
<rect x="412.97" y="264.79" width="3.60" height="3.60" fill="#be1030" />
<rect x="427.30" y="261.13" width="3.60" height="3.60" fill="#be1030" />
<line x1="442.17" y1="247.19" x2="442.17" y2="258.17" stroke="#b0173a" stroke-width="0.9" />
<line x1="440.57" y1="247.19" x2="443.77" y2="247.19" stroke="#b0173a" stroke-width="0.9" />
<line x1="440.57" y1="258.17" x2="443.77" y2="258.17" stroke="#b0173a" stroke-width="0.9" />
<rect x="440.37" y="250.88" width="3.60" height="3.60" fill="#be1030" />
<line x1="456.50" y1="231.45" x2="456.50" y2="240.97" stroke="#b0173a" stroke-width="0.9" />
<line x1="454.90" y1="231.45" x2="458.10" y2="231.45" stroke="#b0173a" stroke-width="0.9" />
<line x1="454.90" y1="240.97" x2="458.10" y2="240.97" stroke="#b0173a" stroke-width="0.9" />
<rect x="454.70" y="234.41" width="3.60" height="3.60" fill="#be1030" />
<line x1="469.57" y1="229.25" x2="469.57" y2="232.91" stroke="#b0173a" stroke-width="0.9" />
<line x1="467.97" y1="229.25" x2="471.17" y2="229.25" stroke="#b0173a" stroke-width="0.9" />
<line x1="467.97" y1="232.91" x2="471.17" y2="232.91" stroke="#b0173a" stroke-width="0.9" />
<rect x="467.77" y="229.28" width="3.60" height="3.60" fill="#be1030" />
<line x1="483.90" y1="223.40" x2="483.90" y2="241.70" stroke="#b0173a" stroke-width="0.9" />
<line x1="482.30" y1="223.40" x2="485.50" y2="223.40" stroke="#b0173a" stroke-width="0.9" />
<line x1="482.30" y1="241.70" x2="485.50" y2="241.70" stroke="#b0173a" stroke-width="0.9" />
<rect x="482.10" y="230.75" width="3.60" height="3.60" fill="#be1030" />
<line x1="496.97" y1="222.67" x2="496.97" y2="235.84" stroke="#b0173a" stroke-width="0.9" />
<line x1="495.37" y1="222.67" x2="498.57" y2="222.67" stroke="#b0173a" stroke-width="0.9" />
<line x1="495.37" y1="235.84" x2="498.57" y2="235.84" stroke="#b0173a" stroke-width="0.9" />
<rect x="495.17" y="227.45" width="3.60" height="3.60" fill="#be1030" />
<line x1="511.30" y1="228.16" x2="511.30" y2="236.94" stroke="#b0173a" stroke-width="0.9" />
<line x1="509.70" y1="228.16" x2="512.90" y2="228.16" stroke="#b0173a" stroke-width="0.9" />
<line x1="509.70" y1="236.94" x2="512.90" y2="236.94" stroke="#b0173a" stroke-width="0.9" />
<rect x="509.50" y="230.75" width="3.60" height="3.60" fill="#be1030" />
<text x="250.30" y="344.21" font-size="9" text-anchor="middle" textLength="69.20" lengthAdjust="spacingAndGlyphs" stroke="#231f20" stroke-width="0.08" >Mouse organoids</text>
<line x1="221.90" y1="361.20" x2="221.90" y2="366.20" stroke="#0a3562" stroke-width="1.2" />
<rect x="220.00" y="360.60" width="3.80" height="1.30" fill="#0a3562" />
<rect x="217.30" y="366.20" width="9.20" height="65.30" fill="#0f4a85" stroke="#0a3562" stroke-width="0.5"/>
<line x1="237.40" y1="364.20" x2="237.40" y2="366.20" stroke="#8e0b22" stroke-width="1.2" />
<rect x="235.50" y="363.60" width="3.80" height="1.30" fill="#8e0b22" />
<rect x="232.80" y="366.20" width="9.20" height="65.30" fill="#c8102e" stroke="#8e0b22" stroke-width="0.5"/>
<line x1="263.45" y1="391.00" x2="263.45" y2="392.30" stroke="#0a3562" stroke-width="1.2" />
<rect x="261.55" y="390.40" width="3.80" height="1.30" fill="#0a3562" />
<rect x="258.80" y="392.30" width="9.30" height="39.20" fill="#0f4a85" stroke="#0a3562" stroke-width="0.5"/>
<line x1="278.90" y1="368.00" x2="278.90" y2="369.70" stroke="#8e0b22" stroke-width="1.2" />
<rect x="277.00" y="367.40" width="3.80" height="1.30" fill="#8e0b22" />
<rect x="274.30" y="369.70" width="9.20" height="61.80" fill="#c8102e" stroke="#8e0b22" stroke-width="0.5"/>
<line x1="211.50" y1="351.00" x2="211.50" y2="432.00" stroke="#231f20" stroke-width="1.0" />
<line x1="211.00" y1="431.50" x2="286.80" y2="431.50" stroke="#231f20" stroke-width="1.0" />
<line x1="208.50" y1="352.40" x2="211.50" y2="352.40" stroke="#231f20" stroke-width="0.9" />
<text x="204.80" y="354.60" font-size="6.4" text-anchor="end" stroke="#231f20" stroke-width="0.08" >120</text>
<line x1="208.50" y1="372.17" x2="211.50" y2="372.17" stroke="#231f20" stroke-width="0.9" />
<text x="204.80" y="374.38" font-size="6.4" text-anchor="end" stroke="#231f20" stroke-width="0.08" >90</text>
<line x1="208.50" y1="391.95" x2="211.50" y2="391.95" stroke="#231f20" stroke-width="0.9" />
<text x="204.80" y="394.16" font-size="6.4" text-anchor="end" stroke="#231f20" stroke-width="0.08" >60</text>
<line x1="208.50" y1="411.72" x2="211.50" y2="411.72" stroke="#231f20" stroke-width="0.9" />
<text x="204.80" y="413.93" font-size="6.4" text-anchor="end" stroke="#231f20" stroke-width="0.08" >30</text>
<line x1="208.50" y1="431.50" x2="211.50" y2="431.50" stroke="#231f20" stroke-width="0.9" />
<text x="204.80" y="433.71" font-size="6.4" text-anchor="end" stroke="#231f20" stroke-width="0.08" >0</text>
<line x1="229.60" y1="431.50" x2="229.60" y2="433.90" stroke="#231f20" stroke-width="0.9" />
<line x1="270.90" y1="431.50" x2="270.90" y2="433.90" stroke="#231f20" stroke-width="0.9" />
<text x="229.50" y="443.62" font-size="7.0" text-anchor="middle" textLength="22.00" lengthAdjust="spacingAndGlyphs" stroke="#231f20" stroke-width="0.08" >Control</text>
<text x="269.80" y="443.62" font-size="7.0" text-anchor="middle" textLength="22.00" lengthAdjust="spacingAndGlyphs" stroke="#231f20" stroke-width="0.08" >T+S+Z</text>
<line x1="264.20" y1="363.60" x2="279.40" y2="363.60" stroke="#231f20" stroke-width="0.9" />
<path d="M271.20,359.60 L271.20,361.60 M270.33,360.10 L272.07,361.10 M270.33,361.10 L272.07,360.10 " stroke="#231f20" stroke-width="0.85" fill="none" />
<rect x="211.40" y="449.90" width="5.60" height="4.20" fill="#11426f" />
<rect x="211.40" y="459.90" width="5.60" height="4.20" fill="#b80c2c" />
<text x="220.60" y="454.38" font-size="7.2" textLength="19.60" lengthAdjust="spacingAndGlyphs" stroke="#231f20" stroke-width="0.08" >DMSO</text>
<text x="220.60" y="464.58" font-size="7.2" textLength="35.00" lengthAdjust="spacingAndGlyphs" stroke="#231f20" stroke-width="0.08" >Zharp1–211</text>
<text x="186.00" y="393.41" font-size="9.0" text-anchor="middle" textLength="30.70" lengthAdjust="spacingAndGlyphs" stroke="#231f20" stroke-width="0.08" transform="rotate(-90 186.00 390.30)" >%Viability</text>
<text x="377.20" y="345.81" font-size="9" text-anchor="middle" textLength="68.90" lengthAdjust="spacingAndGlyphs" stroke="#231f20" stroke-width="0.08" >Mouse organoids</text>
<text x="377.20" y="358.61" font-size="9" text-anchor="middle" textLength="21.60" lengthAdjust="spacingAndGlyphs" stroke="#231f20" stroke-width="0.08" >Cxcl9</text>
<line x1="387.35" y1="370.90" x2="387.35" y2="373.60" stroke="#0a3562" stroke-width="1.2" />
<rect x="385.45" y="370.30" width="3.80" height="1.30" fill="#0a3562" />
<rect x="384.00" y="373.60" width="6.70" height="57.70" fill="#0f4a85" stroke="#0a3562" stroke-width="0.5"/>
<line x1="398.95" y1="392.00" x2="398.95" y2="395.10" stroke="#8e0b22" stroke-width="1.2" />
<rect x="397.05" y="391.40" width="3.80" height="1.30" fill="#8e0b22" />
<rect x="395.60" y="395.10" width="6.70" height="36.20" fill="#c8102e" stroke="#8e0b22" stroke-width="0.5"/>
<line x1="347.30" y1="352.30" x2="347.30" y2="431.80" stroke="#231f20" stroke-width="1.0" />
<line x1="346.80" y1="431.30" x2="407.00" y2="431.30" stroke="#231f20" stroke-width="1.0" />
<line x1="344.30" y1="431.30" x2="347.30" y2="431.30" stroke="#231f20" stroke-width="0.9" />
<text x="341.10" y="433.51" font-size="6.4" text-anchor="end" stroke="#231f20" stroke-width="0.08" >0</text>
<line x1="344.30" y1="411.87" x2="347.30" y2="411.87" stroke="#231f20" stroke-width="0.9" />
<text x="341.10" y="414.08" font-size="6.4" text-anchor="end" stroke="#231f20" stroke-width="0.08" >1000</text>
<line x1="344.30" y1="392.44" x2="347.30" y2="392.44" stroke="#231f20" stroke-width="0.9" />
<text x="341.10" y="394.65" font-size="6.4" text-anchor="end" stroke="#231f20" stroke-width="0.08" >2000</text>
<line x1="344.30" y1="373.01" x2="347.30" y2="373.01" stroke="#231f20" stroke-width="0.9" />
<text x="341.10" y="375.22" font-size="6.4" text-anchor="end" stroke="#231f20" stroke-width="0.08" >3000</text>
<line x1="344.30" y1="353.58" x2="347.30" y2="353.58" stroke="#231f20" stroke-width="0.9" />
<text x="341.10" y="355.79" font-size="6.4" text-anchor="end" stroke="#231f20" stroke-width="0.08" >4000</text>
<line x1="361.80" y1="431.30" x2="361.80" y2="433.70" stroke="#231f20" stroke-width="0.9" />
<line x1="393.40" y1="431.30" x2="393.40" y2="433.70" stroke="#231f20" stroke-width="0.9" />
<text x="361.20" y="443.62" font-size="7.0" text-anchor="middle" textLength="22.60" lengthAdjust="spacingAndGlyphs" stroke="#231f20" stroke-width="0.08" >Control</text>
<text x="394.30" y="443.62" font-size="7.0" text-anchor="middle" textLength="19.00" lengthAdjust="spacingAndGlyphs" stroke="#231f20" stroke-width="0.08" >IFN-γ</text>
<rect x="347.30" y="449.80" width="5.40" height="3.80" fill="#11426f" />
<rect x="347.30" y="460.10" width="5.40" height="3.80" fill="#b80c2c" />
<text x="356.50" y="454.02" font-size="7.0" textLength="20.00" lengthAdjust="spacingAndGlyphs" stroke="#231f20" stroke-width="0.08" >DMSO</text>
<text x="356.50" y="464.22" font-size="7.0" textLength="35.20" lengthAdjust="spacingAndGlyphs" stroke="#231f20" stroke-width="0.08" >Zharp1–211</text>
<text x="318.00" y="393.40" font-size="8.4" text-anchor="middle" textLength="60.00" lengthAdjust="spacingAndGlyphs" stroke="#231f20" stroke-width="0.08" transform="rotate(-90 318.00 390.50)" >Relative expression</text>
<line x1="386.90" y1="366.40" x2="399.20" y2="366.40" stroke="#231f20" stroke-width="0.8" />
<path d="M388.50,362.25 L388.50,364.75 M387.42,362.88 L389.58,364.12 M387.42,364.12 L389.58,362.88 " stroke="#231f20" stroke-width="0.85" fill="none" />
<path d="M391.53,362.25 L391.53,364.75 M390.45,362.88 L392.62,364.12 M390.45,364.12 L392.62,362.88 " stroke="#231f20" stroke-width="0.85" fill="none" />
<path d="M394.57,362.25 L394.57,364.75 M393.48,362.88 L395.65,364.12 M393.48,364.12 L395.65,362.88 " stroke="#231f20" stroke-width="0.85" fill="none" />
<path d="M397.60,362.25 L397.60,364.75 M396.52,362.88 L398.68,364.12 M396.52,364.12 L398.68,362.88 " stroke="#231f20" stroke-width="0.85" fill="none" />
<text x="489.00" y="345.81" font-size="9" text-anchor="middle" textLength="26.70" lengthAdjust="spacingAndGlyphs" stroke="#231f20" stroke-width="0.08" >Cxcl10</text>
<rect x="464.00" y="430.00" width="5.00" height="1.30" fill="#0f4a85" stroke="#0a3562" stroke-width="0.5"/>
<rect x="475.50" y="430.50" width="5.80" height="0.80" fill="#c8102e" stroke="#8e0b22" stroke-width="0.5"/>
<line x1="498.80" y1="375.60" x2="498.80" y2="377.70" stroke="#0a3562" stroke-width="1.2" />
<rect x="496.90" y="375.00" width="3.80" height="1.30" fill="#0a3562" />
<rect x="495.40" y="377.70" width="6.80" height="53.60" fill="#0f4a85" stroke="#0a3562" stroke-width="0.5"/>
<line x1="510.65" y1="394.60" x2="510.65" y2="395.50" stroke="#8e0b22" stroke-width="1.2" />
<rect x="508.75" y="394.00" width="3.80" height="1.30" fill="#8e0b22" />
<rect x="507.30" y="395.50" width="6.70" height="35.80" fill="#c8102e" stroke="#8e0b22" stroke-width="0.5"/>
<line x1="458.60" y1="352.30" x2="458.60" y2="431.80" stroke="#231f20" stroke-width="1.0" />
<line x1="458.10" y1="431.30" x2="519.50" y2="431.30" stroke="#231f20" stroke-width="1.0" />
<line x1="455.60" y1="431.30" x2="458.60" y2="431.30" stroke="#231f20" stroke-width="0.9" />
<text x="452.40" y="433.51" font-size="6.4" text-anchor="end" stroke="#231f20" stroke-width="0.08" >0</text>
<line x1="455.60" y1="411.87" x2="458.60" y2="411.87" stroke="#231f20" stroke-width="0.9" />
<text x="452.40" y="414.08" font-size="6.4" text-anchor="end" stroke="#231f20" stroke-width="0.08" >100</text>
<line x1="455.60" y1="392.44" x2="458.60" y2="392.44" stroke="#231f20" stroke-width="0.9" />
<text x="452.40" y="394.65" font-size="6.4" text-anchor="end" stroke="#231f20" stroke-width="0.08" >200</text>
<line x1="455.60" y1="373.01" x2="458.60" y2="373.01" stroke="#231f20" stroke-width="0.9" />
<text x="452.40" y="375.22" font-size="6.4" text-anchor="end" stroke="#231f20" stroke-width="0.08" >300</text>
<line x1="455.60" y1="353.58" x2="458.60" y2="353.58" stroke="#231f20" stroke-width="0.9" />
<text x="452.40" y="355.79" font-size="6.4" text-anchor="end" stroke="#231f20" stroke-width="0.08" >400</text>
<line x1="472.50" y1="431.30" x2="472.50" y2="433.70" stroke="#231f20" stroke-width="0.9" />
<line x1="504.60" y1="431.30" x2="504.60" y2="433.70" stroke="#231f20" stroke-width="0.9" />
<text x="472.70" y="443.62" font-size="7.0" text-anchor="middle" textLength="22.60" lengthAdjust="spacingAndGlyphs" stroke="#231f20" stroke-width="0.08" >Control</text>
<text x="505.40" y="443.62" font-size="7.0" text-anchor="middle" textLength="19.00" lengthAdjust="spacingAndGlyphs" stroke="#231f20" stroke-width="0.08" >IFN-γ</text>
<rect x="459.00" y="449.80" width="5.40" height="3.80" fill="#11426f" />
<rect x="459.00" y="460.10" width="5.40" height="3.80" fill="#b80c2c" />
<text x="468.20" y="454.02" font-size="7.0" textLength="20.00" lengthAdjust="spacingAndGlyphs" stroke="#231f20" stroke-width="0.08" >DMSO</text>
<text x="468.20" y="464.22" font-size="7.0" textLength="35.20" lengthAdjust="spacingAndGlyphs" stroke="#231f20" stroke-width="0.08" >Zharp1–211</text>
<text x="433.00" y="393.40" font-size="8.4" text-anchor="middle" textLength="60.00" lengthAdjust="spacingAndGlyphs" stroke="#231f20" stroke-width="0.08" transform="rotate(-90 433.00 390.50)" >Relative expression</text>
<line x1="498.80" y1="367.40" x2="510.50" y2="367.40" stroke="#231f20" stroke-width="0.8" />
<path d="M500.40,363.25 L500.40,365.75 M499.32,363.88 L501.48,365.12 M499.32,365.12 L501.48,363.88 " stroke="#231f20" stroke-width="0.85" fill="none" />
<path d="M503.23,363.25 L503.23,365.75 M502.15,363.88 L504.32,365.12 M502.15,365.12 L504.32,363.88 " stroke="#231f20" stroke-width="0.85" fill="none" />
<path d="M506.07,363.25 L506.07,365.75 M504.98,363.88 L507.15,365.12 M504.98,365.12 L507.15,363.88 " stroke="#231f20" stroke-width="0.85" fill="none" />
<path d="M508.90,363.25 L508.90,365.75 M507.82,363.88 L509.98,365.12 M507.82,365.12 L509.98,363.88 " stroke="#231f20" stroke-width="0.85" fill="none" />
<defs><filter id="bl" x="-20%" y="-100%" width="140%" height="300%"><feGaussianBlur stdDeviation="0.6"/></filter><filter id="bl3" x="-20%" y="-100%" width="140%" height="300%"><feGaussianBlur stdDeviation="0.35"/></filter><filter id="bl2" x="-20%" y="-100%" width="140%" height="300%"><feGaussianBlur stdDeviation="1.2"/></filter></defs>
<text x="48.40" y="342.62" font-size="7.0" text-anchor="middle" textLength="20.60" lengthAdjust="spacingAndGlyphs" stroke="#231f20" stroke-width="0.08" >DMSO</text>
<text x="79.30" y="342.62" font-size="7.0" text-anchor="middle" textLength="35.00" lengthAdjust="spacingAndGlyphs" stroke="#231f20" stroke-width="0.08" >Zharp1–211</text>
<line x1="36.00" y1="346.60" x2="61.00" y2="346.60" stroke="#231f20" stroke-width="1.1" />
<line x1="67.00" y1="346.60" x2="92.20" y2="346.60" stroke="#231f20" stroke-width="1.1" />
<text x="38.20" y="364.15" font-size="6.8" text-anchor="middle" textLength="19.60" lengthAdjust="spacingAndGlyphs" stroke="#231f20" stroke-width="0.08" transform="rotate(-90 38.20 361.80)" >DMSO</text>
<text x="58.60" y="363.75" font-size="6.8" text-anchor="middle" textLength="19.60" lengthAdjust="spacingAndGlyphs" stroke="#231f20" stroke-width="0.08" transform="rotate(-90 58.60 361.40)" >T+S+Z</text>
<text x="78.60" y="363.75" font-size="6.8" text-anchor="middle" textLength="19.60" lengthAdjust="spacingAndGlyphs" stroke="#231f20" stroke-width="0.08" transform="rotate(-90 78.60 361.40)" >T+S+Z</text>
<rect x="26.60" y="376.30" width="63.90" height="14.80" fill="#cbcbcb" />
<rect x="51.0" y="379.2" width="15.0" height="7.5" fill="#b0b0b0" filter="url(#bl2)"/>
<rect x="52.0" y="380.0" width="13.0" height="3.0" fill="#8c8c8c" filter="url(#bl)"/>
<rect x="26.6" y="376.30" width="63.9" height="14.80" fill="none" stroke="#1c1c1c" stroke-width="1.1"/>
<text x="16.70" y="385.98" font-size="6.6" text-anchor="middle" stroke="#231f20" stroke-width="0.08" >74</text>
<line x1="23.20" y1="383.70" x2="26.00" y2="383.70" stroke="#231f20" stroke-width="0.9" />
<text x="94.30" y="386.12" font-size="7.0" textLength="23.70" lengthAdjust="spacingAndGlyphs" stroke="#231f20" stroke-width="0.08" >p-RIPK1</text>
<text x="38.00" y="400.28" font-size="6.9" text-anchor="middle" textLength="13.00" lengthAdjust="spacingAndGlyphs" stroke="#231f20" stroke-width="0.08" >0.15</text>
<text x="58.20" y="400.28" font-size="6.9" text-anchor="middle" textLength="13.00" lengthAdjust="spacingAndGlyphs" stroke="#231f20" stroke-width="0.08" >0.58</text>
<text x="79.60" y="400.28" font-size="6.9" text-anchor="middle" textLength="13.00" lengthAdjust="spacingAndGlyphs" stroke="#231f20" stroke-width="0.08" >0.16</text>
<rect x="26.60" y="405.20" width="63.90" height="14.90" fill="#cecece" />
<path d="M30.20,413.9 Q31.40,412.6 33.20,413.0 L42.60,413.1 Q44.60,412.7 45.60,413.9 Q44.60,415.2 42.60,414.8 L33.20,414.9 Q31.40,415.3 30.20,413.9 Z" fill="#1e1e1e" filter="url(#bl3)"/>
<path d="M50.80,413.9 Q52.00,412.6 53.80,413.0 L62.00,413.1 Q64.00,412.7 65.00,413.9 Q64.00,415.2 62.00,414.8 L53.80,414.9 Q52.00,415.3 50.80,413.9 Z" fill="#2c2c2c" filter="url(#bl3)"/>
<path d="M69.50,413.9 Q70.70,412.6 72.50,413.0 L83.20,413.1 Q85.20,412.7 86.20,413.9 Q85.20,415.2 83.20,414.8 L72.50,414.9 Q70.70,415.3 69.50,413.9 Z" fill="#181818" filter="url(#bl3)"/>
<path d="M55,411.3 Q57.5,410.2 59.5,411.5" stroke="#8a8a8a" stroke-width="0.6" fill="none"/>
<circle cx="67.60" cy="410.60" r="0.70" fill="#777" />
<rect x="26.6" y="405.20" width="63.9" height="14.90" fill="none" stroke="#1c1c1c" stroke-width="1.1"/>
<text x="16.70" y="414.93" font-size="6.6" text-anchor="middle" stroke="#231f20" stroke-width="0.08" >74</text>
<line x1="23.20" y1="412.65" x2="26.00" y2="412.65" stroke="#231f20" stroke-width="0.9" />
<text x="94.30" y="415.06" font-size="7.0" textLength="17.40" lengthAdjust="spacingAndGlyphs" stroke="#231f20" stroke-width="0.08" >RIPK1</text>
<text x="38.00" y="430.18" font-size="6.9" text-anchor="middle" textLength="13.00" lengthAdjust="spacingAndGlyphs" stroke="#231f20" stroke-width="0.08" >1.26</text>
<text x="58.20" y="430.18" font-size="6.9" text-anchor="middle" textLength="13.00" lengthAdjust="spacingAndGlyphs" stroke="#231f20" stroke-width="0.08" >1.07</text>
<text x="79.60" y="430.18" font-size="6.9" text-anchor="middle" textLength="13.00" lengthAdjust="spacingAndGlyphs" stroke="#231f20" stroke-width="0.08" >1.59</text>
<rect x="26.60" y="435.00" width="63.90" height="16.40" fill="#c3c3c3" />
<rect x="50" y="438.5" width="17" height="6.5" fill="#aaaaaa" filter="url(#bl2)"/>
<ellipse cx="58.4" cy="442.0" rx="7.6" ry="1.0" fill="#3c3c3c" filter="url(#bl)"/>
<rect x="29.50" y="439.8" width="15.80" height="4" fill="#b2b2b2" filter="url(#bl2)"/>
<rect x="70.50" y="439.8" width="17.00" height="4" fill="#b2b2b2" filter="url(#bl2)"/>
<rect x="29.50" y="447.4" width="15.80" height="1.6" fill="#acacac" filter="url(#bl)"/>
<rect x="50.90" y="447.4" width="15.10" height="1.6" fill="#acacac" filter="url(#bl)"/>
<rect x="70.50" y="447.4" width="17.00" height="1.6" fill="#acacac" filter="url(#bl)"/>
<rect x="26.6" y="435.00" width="63.9" height="16.40" fill="none" stroke="#1c1c1c" stroke-width="1.1"/>
<text x="16.70" y="445.48" font-size="6.6" text-anchor="middle" stroke="#231f20" stroke-width="0.08" >53</text>
<line x1="23.20" y1="443.20" x2="26.00" y2="443.20" stroke="#231f20" stroke-width="0.9" />
<text x="94.30" y="445.62" font-size="7.0" textLength="23.50" lengthAdjust="spacingAndGlyphs" stroke="#231f20" stroke-width="0.08" >p-MLKL</text>
<text x="38.00" y="460.38" font-size="6.9" text-anchor="middle" textLength="13.00" lengthAdjust="spacingAndGlyphs" stroke="#231f20" stroke-width="0.08" >0.24</text>
<text x="58.20" y="460.38" font-size="6.9" text-anchor="middle" textLength="13.00" lengthAdjust="spacingAndGlyphs" stroke="#231f20" stroke-width="0.08" >0.63</text>
<text x="79.60" y="460.38" font-size="6.9" text-anchor="middle" textLength="13.00" lengthAdjust="spacingAndGlyphs" stroke="#231f20" stroke-width="0.08" >0.37</text>
<rect x="26.60" y="466.50" width="63.90" height="14.60" fill="#cbcbcb" />
<ellipse cx="37.85" cy="473.1" rx="7.55" ry="1.2" fill="#555" filter="url(#bl)"/>
<ellipse cx="58.85" cy="473.1" rx="7.95" ry="1.2" fill="#3a3a3a" filter="url(#bl)"/>
<ellipse cx="80.25" cy="473.1" rx="7.95" ry="1.2" fill="#4a4a4a" filter="url(#bl)"/>
<rect x="26.6" y="466.50" width="63.9" height="14.60" fill="none" stroke="#1c1c1c" stroke-width="1.1"/>
<text x="16.70" y="476.08" font-size="6.6" text-anchor="middle" stroke="#231f20" stroke-width="0.08" >53</text>
<line x1="23.20" y1="473.80" x2="26.00" y2="473.80" stroke="#231f20" stroke-width="0.9" />
<text x="94.30" y="476.22" font-size="7.0" textLength="16.60" lengthAdjust="spacingAndGlyphs" stroke="#231f20" stroke-width="0.08" >MLKL</text>
<text x="38.00" y="490.18" font-size="6.9" text-anchor="middle" textLength="13.00" lengthAdjust="spacingAndGlyphs" stroke="#231f20" stroke-width="0.08" >0.63</text>
<text x="58.20" y="490.18" font-size="6.9" text-anchor="middle" textLength="13.00" lengthAdjust="spacingAndGlyphs" stroke="#231f20" stroke-width="0.08" >0.89</text>
<text x="79.60" y="490.18" font-size="6.9" text-anchor="middle" textLength="13.00" lengthAdjust="spacingAndGlyphs" stroke="#231f20" stroke-width="0.08" >0.85</text>
<rect x="26.60" y="495.70" width="63.90" height="16.80" fill="#cdcdcd" />
<path d="M28.5,502.2 Q36,501.8 44.8,503.8 L44.8,505.6 Q36,504.2 28.5,504.6 Z" fill="#2a2a2a" filter="url(#bl)"/>
<path d="M51,503.8 Q58,502.4 66,502.0 L66,504.2 Q58,504.6 51,505.8 Z" fill="#333" filter="url(#bl)"/>
<path d="M72.5,502.4 Q80,502.2 88,502.8 L88,504.6 Q80,504.2 72.5,504.4 Z" fill="#555" filter="url(#bl)"/>
<rect x="26.6" y="495.70" width="63.9" height="16.80" fill="none" stroke="#1c1c1c" stroke-width="1.1"/>
<text x="16.70" y="505.48" font-size="6.6" text-anchor="middle" stroke="#231f20" stroke-width="0.08" >41</text>
<line x1="23.20" y1="503.20" x2="26.00" y2="503.20" stroke="#231f20" stroke-width="0.9" />
<text x="94.30" y="505.62" font-size="7.0" textLength="20.10" lengthAdjust="spacingAndGlyphs" stroke="#231f20" stroke-width="0.08" >β-actin</text>
<defs><radialGradient id="bfade" cx="50%" cy="50%" r="50%"><stop offset="0.6" stop-color="#fff" stop-opacity="0"/><stop offset="1" stop-color="#fff" stop-opacity="0.6"/></radialGradient></defs>
<path d="M215.80,84.40 L145.49,74.52 A71.0,71.0 0 0 1 220.75,13.57 Z" fill="#f6eef4"/>
<path d="M215.80,84.40 L220.75,13.57 A71.0,71.0 0 0 1 253.42,24.19 Z" fill="#fbedf0"/>
<path d="M215.80,84.40 L253.42,24.19 A71.0,71.0 0 0 1 280.66,55.52 Z" fill="#eef4fa"/>
<path d="M215.80,84.40 L280.66,55.52 A71.0,71.0 0 0 1 286.11,74.52 Z" fill="#e6f5f9"/>
<path d="M215.80,84.40 L286.11,74.52 A71.0,71.0 0 0 1 266.87,133.72 Z" fill="#eef5fa"/>
<path d="M215.80,84.40 L266.87,133.72 A71.0,71.0 0 0 1 201.04,153.85 Z" fill="#fbfaf0"/>
<path d="M215.80,84.40 L201.04,153.85 A71.0,71.0 0 0 1 154.31,119.90 Z" fill="#eef7f5"/>
<path d="M215.80,84.40 L154.31,119.90 A71.0,71.0 0 0 1 145.49,74.52 Z" fill="#eaf6f9"/>
<circle cx="215.8" cy="84.4" r="71.0" fill="url(#bfade)"/>
<defs><radialGradient id="bfade2" gradientUnits="userSpaceOnUse" cx="215.8" cy="84.4" r="71.0"><stop offset="0.45" stop-color="#fff" stop-opacity="0"/><stop offset="0.9" stop-color="#fff" stop-opacity="0.85"/></radialGradient></defs>
<defs><filter id="fb" x="-30%" y="-30%" width="160%" height="160%"><feGaussianBlur stdDeviation="5"/></filter><clipPath id="bclip"><circle cx="215.8" cy="84.4" r="71.0"/></clipPath></defs>
<g clip-path="url(#bclip)"><path d="M252.89,99.38 L289.05,113.99 A79.0,79.0 0 0 1 232.23,161.67 L224.12,123.53 A40,40 0 0 0 252.89,99.38 Z" fill="#fff" opacity="0.75" filter="url(#fb)"/></g>
<line x1="209.02" y1="82.65" x2="200.49" y2="80.45" stroke="#cdb4c8" stroke-width="2.6" stroke-linecap="round"/>
<line x1="209.69" y1="80.99" x2="194.92" y2="72.73" stroke="#cdb4c8" stroke-width="2.6" stroke-linecap="round"/>
<line x1="210.72" y1="79.58" x2="200.94" y2="70.29" stroke="#cdb4c8" stroke-width="2.6" stroke-linecap="round"/>
<line x1="212.00" y1="78.52" x2="207.04" y2="70.82" stroke="#cdb4c8" stroke-width="2.6" stroke-linecap="round"/>
<line x1="213.91" y1="77.66" x2="211.77" y2="70.02" stroke="#cdb4c8" stroke-width="2.6" stroke-linecap="round"/>
<line x1="215.60" y1="77.40" x2="215.29" y2="66.24" stroke="#cdb4c8" stroke-width="2.6" stroke-linecap="round"/>
<line x1="217.08" y1="77.52" x2="218.86" y2="67.91" stroke="#e0a8b4" stroke-width="2.6" stroke-linecap="round"/>
<line x1="218.79" y1="78.07" x2="226.66" y2="61.40" stroke="#e0a8b4" stroke-width="2.6" stroke-linecap="round"/>
<line x1="220.23" y1="78.98" x2="232.14" y2="64.41" stroke="#b8cfdd" stroke-width="2.6" stroke-linecap="round"/>
<line x1="221.70" y1="80.63" x2="228.47" y2="76.31" stroke="#b8cfdd" stroke-width="2.6" stroke-linecap="round"/>
<line x1="222.44" y1="82.20" x2="237.72" y2="77.13" stroke="#8ecbd8" stroke-width="2.6" stroke-linecap="round"/>
<line x1="222.68" y1="83.10" x2="238.28" y2="80.14" stroke="#8ecbd8" stroke-width="2.6" stroke-linecap="round"/>
<line x1="222.80" y1="84.45" x2="230.77" y2="84.50" stroke="#b8d4e2" stroke-width="2.6" stroke-linecap="round"/>
<line x1="222.70" y1="85.60" x2="237.40" y2="88.15" stroke="#b8d4e2" stroke-width="2.6" stroke-linecap="round"/>
<line x1="222.10" y1="87.45" x2="238.99" y2="95.62" stroke="#b8d4e2" stroke-width="2.6" stroke-linecap="round"/>
<line x1="221.40" y1="88.59" x2="232.24" y2="96.70" stroke="#b8d4e2" stroke-width="2.6" stroke-linecap="round"/>
<line x1="220.08" y1="89.94" x2="228.81" y2="101.27" stroke="#d4dcaa" stroke-width="2.6" stroke-linecap="round"/>
<line x1="218.55" y1="90.84" x2="223.70" y2="102.87" stroke="#d4dcaa" stroke-width="2.6" stroke-linecap="round"/>
<line x1="217.00" y1="91.30" x2="220.12" y2="109.33" stroke="#d4dcaa" stroke-width="2.6" stroke-linecap="round"/>
<line x1="215.29" y1="91.38" x2="214.55" y2="101.39" stroke="#d4dcaa" stroke-width="2.6" stroke-linecap="round"/>
<line x1="213.49" y1="91.01" x2="208.32" y2="105.80" stroke="#a4d2c6" stroke-width="2.6" stroke-linecap="round"/>
<line x1="211.79" y1="90.14" x2="201.77" y2="104.50" stroke="#a4d2c6" stroke-width="2.6" stroke-linecap="round"/>
<line x1="210.39" y1="88.84" x2="196.46" y2="100.29" stroke="#a4d2c6" stroke-width="2.6" stroke-linecap="round"/>
<line x1="209.46" y1="87.37" x2="197.40" y2="93.04" stroke="#b4dae2" stroke-width="2.6" stroke-linecap="round"/>
<line x1="208.89" y1="85.50" x2="201.54" y2="86.66" stroke="#b4dae2" stroke-width="2.6" stroke-linecap="round"/>
<line x1="208.81" y1="84.03" x2="197.11" y2="83.42" stroke="#b4dae2" stroke-width="2.6" stroke-linecap="round"/>
<line x1="209.02" y1="82.65" x2="200.49" y2="80.45" stroke="#fff" stroke-width="1.7" stroke-linecap="round"/>
<line x1="209.69" y1="80.99" x2="194.92" y2="72.73" stroke="#fff" stroke-width="1.7" stroke-linecap="round"/>
<line x1="210.72" y1="79.58" x2="200.94" y2="70.29" stroke="#fff" stroke-width="1.7" stroke-linecap="round"/>
<line x1="212.00" y1="78.52" x2="207.04" y2="70.82" stroke="#fff" stroke-width="1.7" stroke-linecap="round"/>
<line x1="213.91" y1="77.66" x2="211.77" y2="70.02" stroke="#fff" stroke-width="1.7" stroke-linecap="round"/>
<line x1="215.60" y1="77.40" x2="215.29" y2="66.24" stroke="#fff" stroke-width="1.7" stroke-linecap="round"/>
<line x1="217.08" y1="77.52" x2="218.86" y2="67.91" stroke="#fff" stroke-width="1.7" stroke-linecap="round"/>
<line x1="218.79" y1="78.07" x2="226.66" y2="61.40" stroke="#fff" stroke-width="1.7" stroke-linecap="round"/>
<line x1="220.23" y1="78.98" x2="232.14" y2="64.41" stroke="#fff" stroke-width="1.7" stroke-linecap="round"/>
<line x1="221.70" y1="80.63" x2="228.47" y2="76.31" stroke="#fff" stroke-width="1.7" stroke-linecap="round"/>
<line x1="222.44" y1="82.20" x2="237.72" y2="77.13" stroke="#fff" stroke-width="1.7" stroke-linecap="round"/>
<line x1="222.68" y1="83.10" x2="238.28" y2="80.14" stroke="#fff" stroke-width="1.7" stroke-linecap="round"/>
<line x1="222.80" y1="84.45" x2="230.77" y2="84.50" stroke="#fff" stroke-width="1.7" stroke-linecap="round"/>
<line x1="222.70" y1="85.60" x2="237.40" y2="88.15" stroke="#fff" stroke-width="1.7" stroke-linecap="round"/>
<line x1="222.10" y1="87.45" x2="238.99" y2="95.62" stroke="#fff" stroke-width="1.7" stroke-linecap="round"/>
<line x1="221.40" y1="88.59" x2="232.24" y2="96.70" stroke="#fff" stroke-width="1.7" stroke-linecap="round"/>
<line x1="220.08" y1="89.94" x2="228.81" y2="101.27" stroke="#fff" stroke-width="1.7" stroke-linecap="round"/>
<line x1="218.55" y1="90.84" x2="223.70" y2="102.87" stroke="#fff" stroke-width="1.7" stroke-linecap="round"/>
<line x1="217.00" y1="91.30" x2="220.12" y2="109.33" stroke="#fff" stroke-width="1.7" stroke-linecap="round"/>
<line x1="215.29" y1="91.38" x2="214.55" y2="101.39" stroke="#fff" stroke-width="1.7" stroke-linecap="round"/>
<line x1="213.49" y1="91.01" x2="208.32" y2="105.80" stroke="#fff" stroke-width="1.7" stroke-linecap="round"/>
<line x1="211.79" y1="90.14" x2="201.77" y2="104.50" stroke="#fff" stroke-width="1.7" stroke-linecap="round"/>
<line x1="210.39" y1="88.84" x2="196.46" y2="100.29" stroke="#fff" stroke-width="1.7" stroke-linecap="round"/>
<line x1="209.46" y1="87.37" x2="197.40" y2="93.04" stroke="#fff" stroke-width="1.7" stroke-linecap="round"/>
<line x1="208.89" y1="85.50" x2="201.54" y2="86.66" stroke="#fff" stroke-width="1.7" stroke-linecap="round"/>
<line x1="208.81" y1="84.03" x2="197.11" y2="83.42" stroke="#fff" stroke-width="1.7" stroke-linecap="round"/>
<line x1="200.49" y1="80.45" x2="192.49" y2="80.51" stroke="#cdb4c8" stroke-width="0.5"/>
<line x1="200.49" y1="80.45" x2="193.09" y2="78.84" stroke="#cdb4c8" stroke-width="0.5"/>
<line x1="200.49" y1="80.45" x2="197.38" y2="78.18" stroke="#cdb4c8" stroke-width="0.5"/>
<line x1="194.92" y1="72.73" x2="186.41" y2="70.31" stroke="#cdb4c8" stroke-width="0.5"/>
<line x1="194.92" y1="72.73" x2="187.51" y2="69.04" stroke="#cdb4c8" stroke-width="0.5"/>
<line x1="194.92" y1="72.73" x2="189.04" y2="66.98" stroke="#cdb4c8" stroke-width="0.5"/>
<line x1="200.94" y1="70.29" x2="192.60" y2="65.98" stroke="#cdb4c8" stroke-width="0.5"/>
<line x1="200.94" y1="70.29" x2="196.81" y2="67.87" stroke="#cdb4c8" stroke-width="0.5"/>
<line x1="200.94" y1="70.29" x2="195.20" y2="64.61" stroke="#cdb4c8" stroke-width="0.5"/>
<line x1="200.94" y1="70.29" x2="196.19" y2="64.03" stroke="#cdb4c8" stroke-width="0.5"/>
<line x1="200.94" y1="70.29" x2="194.78" y2="60.54" stroke="#cdb4c8" stroke-width="0.5"/>
<line x1="207.04" y1="70.82" x2="202.24" y2="67.26" stroke="#cdb4c8" stroke-width="0.5"/>
<line x1="207.04" y1="70.82" x2="202.59" y2="65.33" stroke="#cdb4c8" stroke-width="0.5"/>
<line x1="207.04" y1="70.82" x2="203.24" y2="64.23" stroke="#cdb4c8" stroke-width="0.5"/>
<line x1="207.04" y1="70.82" x2="202.75" y2="60.13" stroke="#cdb4c8" stroke-width="0.5"/>
<line x1="211.77" y1="70.02" x2="208.22" y2="64.73" stroke="#cdb4c8" stroke-width="0.5"/>
<line x1="211.77" y1="70.02" x2="210.14" y2="66.73" stroke="#cdb4c8" stroke-width="0.5"/>
<line x1="211.77" y1="70.02" x2="209.12" y2="61.14" stroke="#cdb4c8" stroke-width="0.5"/>
<line x1="211.77" y1="70.02" x2="211.24" y2="64.19" stroke="#cdb4c8" stroke-width="0.5"/>
<line x1="211.77" y1="70.02" x2="211.91" y2="62.80" stroke="#cdb4c8" stroke-width="0.5"/>
<line x1="215.29" y1="66.24" x2="212.45" y2="57.95" stroke="#cdb4c8" stroke-width="0.5"/>
<line x1="215.29" y1="66.24" x2="213.61" y2="60.75" stroke="#cdb4c8" stroke-width="0.5"/>
<line x1="215.29" y1="66.24" x2="214.33" y2="55.02" stroke="#cdb4c8" stroke-width="0.5"/>
<line x1="215.29" y1="66.24" x2="215.33" y2="59.63" stroke="#cdb4c8" stroke-width="0.5"/>
<line x1="215.29" y1="66.24" x2="216.25" y2="59.37" stroke="#cdb4c8" stroke-width="0.5"/>
<line x1="215.29" y1="66.24" x2="217.94" y2="54.43" stroke="#cdb4c8" stroke-width="0.5"/>
<line x1="218.86" y1="67.91" x2="218.01" y2="62.66" stroke="#e0a8b4" stroke-width="0.5"/>
<line x1="218.86" y1="67.91" x2="220.37" y2="59.75" stroke="#e0a8b4" stroke-width="0.5"/>
<line x1="218.86" y1="67.91" x2="221.47" y2="61.55" stroke="#e0a8b4" stroke-width="0.5"/>
<line x1="226.66" y1="61.40" x2="228.80" y2="50.53" stroke="#e0a8b4" stroke-width="0.5"/>
<line x1="226.66" y1="61.40" x2="230.24" y2="54.20" stroke="#e0a8b4" stroke-width="0.5"/>
<line x1="226.66" y1="61.40" x2="231.84" y2="55.82" stroke="#e0a8b4" stroke-width="0.5"/>
<line x1="232.14" y1="64.41" x2="232.86" y2="57.47" stroke="#b8cfdd" stroke-width="0.5"/>
<line x1="232.14" y1="64.41" x2="232.95" y2="59.57" stroke="#b8cfdd" stroke-width="0.5"/>
<line x1="232.14" y1="64.41" x2="233.59" y2="61.44" stroke="#b8cfdd" stroke-width="0.5"/>
<line x1="232.14" y1="64.41" x2="235.47" y2="61.55" stroke="#b8cfdd" stroke-width="0.5"/>
<line x1="232.14" y1="64.41" x2="237.62" y2="60.87" stroke="#b8cfdd" stroke-width="0.5"/>
<line x1="232.14" y1="64.41" x2="243.05" y2="58.27" stroke="#b8cfdd" stroke-width="0.5"/>
<line x1="228.47" y1="76.31" x2="235.45" y2="69.45" stroke="#b8cfdd" stroke-width="0.5"/>
<line x1="228.47" y1="76.31" x2="234.98" y2="72.30" stroke="#b8cfdd" stroke-width="0.5"/>
<line x1="228.47" y1="76.31" x2="234.81" y2="74.82" stroke="#b8cfdd" stroke-width="0.5"/>
<line x1="237.72" y1="77.13" x2="247.53" y2="72.56" stroke="#8ecbd8" stroke-width="0.5"/>
<line x1="237.72" y1="77.13" x2="243.40" y2="74.27" stroke="#8ecbd8" stroke-width="0.5"/>
<line x1="237.72" y1="77.13" x2="245.19" y2="74.90" stroke="#8ecbd8" stroke-width="0.5"/>
<line x1="237.72" y1="77.13" x2="242.65" y2="76.10" stroke="#8ecbd8" stroke-width="0.5"/>
<line x1="237.72" y1="77.13" x2="248.47" y2="75.84" stroke="#8ecbd8" stroke-width="0.5"/>
<line x1="238.28" y1="80.14" x2="245.22" y2="77.11" stroke="#8ecbd8" stroke-width="0.5"/>
<line x1="238.28" y1="80.14" x2="248.20" y2="78.19" stroke="#8ecbd8" stroke-width="0.5"/>
<line x1="238.28" y1="80.14" x2="246.62" y2="78.79" stroke="#8ecbd8" stroke-width="0.5"/>
<line x1="238.28" y1="80.14" x2="247.91" y2="80.15" stroke="#8ecbd8" stroke-width="0.5"/>
<line x1="230.77" y1="84.50" x2="235.49" y2="83.04" stroke="#b8d4e2" stroke-width="0.5"/>
<line x1="230.77" y1="84.50" x2="241.87" y2="84.67" stroke="#b8d4e2" stroke-width="0.5"/>
<line x1="230.77" y1="84.50" x2="239.58" y2="86.17" stroke="#b8d4e2" stroke-width="0.5"/>
<line x1="237.40" y1="88.15" x2="247.34" y2="87.39" stroke="#b8d4e2" stroke-width="0.5"/>
<line x1="237.40" y1="88.15" x2="247.63" y2="87.97" stroke="#b8d4e2" stroke-width="0.5"/>
<line x1="237.40" y1="88.15" x2="249.03" y2="89.87" stroke="#b8d4e2" stroke-width="0.5"/>
<line x1="237.40" y1="88.15" x2="248.67" y2="90.59" stroke="#b8d4e2" stroke-width="0.5"/>
<line x1="237.40" y1="88.15" x2="241.28" y2="89.93" stroke="#b8d4e2" stroke-width="0.5"/>
<line x1="237.40" y1="88.15" x2="246.84" y2="92.93" stroke="#b8d4e2" stroke-width="0.5"/>
<line x1="238.99" y1="95.62" x2="247.35" y2="96.24" stroke="#b8d4e2" stroke-width="0.5"/>
<line x1="238.99" y1="95.62" x2="248.06" y2="98.73" stroke="#b8d4e2" stroke-width="0.5"/>
<line x1="238.99" y1="95.62" x2="242.73" y2="97.66" stroke="#b8d4e2" stroke-width="0.5"/>
<line x1="238.99" y1="95.62" x2="248.24" y2="101.40" stroke="#b8d4e2" stroke-width="0.5"/>
<line x1="238.99" y1="95.62" x2="244.61" y2="101.05" stroke="#b8d4e2" stroke-width="0.5"/>
<line x1="232.24" y1="96.70" x2="241.48" y2="100.27" stroke="#b8d4e2" stroke-width="0.5"/>
<line x1="232.24" y1="96.70" x2="240.90" y2="102.37" stroke="#b8d4e2" stroke-width="0.5"/>
<line x1="232.24" y1="96.70" x2="240.30" y2="104.09" stroke="#b8d4e2" stroke-width="0.5"/>
<line x1="232.24" y1="96.70" x2="237.15" y2="102.72" stroke="#b8d4e2" stroke-width="0.5"/>
<line x1="228.81" y1="101.27" x2="235.30" y2="105.27" stroke="#d4dcaa" stroke-width="0.5"/>
<line x1="228.81" y1="101.27" x2="233.01" y2="105.51" stroke="#d4dcaa" stroke-width="0.5"/>
<line x1="228.81" y1="101.27" x2="234.20" y2="109.80" stroke="#d4dcaa" stroke-width="0.5"/>
<line x1="228.81" y1="101.27" x2="230.12" y2="106.74" stroke="#d4dcaa" stroke-width="0.5"/>
<line x1="223.70" y1="102.87" x2="230.06" y2="112.27" stroke="#d4dcaa" stroke-width="0.5"/>
<line x1="223.70" y1="102.87" x2="226.59" y2="109.85" stroke="#d4dcaa" stroke-width="0.5"/>
<line x1="223.70" y1="102.87" x2="224.42" y2="110.16" stroke="#d4dcaa" stroke-width="0.5"/>
<line x1="220.12" y1="109.33" x2="224.82" y2="119.59" stroke="#d4dcaa" stroke-width="0.5"/>
<line x1="220.12" y1="109.33" x2="222.75" y2="115.68" stroke="#d4dcaa" stroke-width="0.5"/>
<line x1="220.12" y1="109.33" x2="221.84" y2="118.20" stroke="#d4dcaa" stroke-width="0.5"/>
<line x1="220.12" y1="109.33" x2="219.95" y2="115.14" stroke="#d4dcaa" stroke-width="0.5"/>
<line x1="220.12" y1="109.33" x2="218.48" y2="121.06" stroke="#d4dcaa" stroke-width="0.5"/>
<line x1="214.55" y1="101.39" x2="215.77" y2="106.41" stroke="#d4dcaa" stroke-width="0.5"/>
<line x1="214.55" y1="101.39" x2="214.77" y2="108.80" stroke="#d4dcaa" stroke-width="0.5"/>
<line x1="214.55" y1="101.39" x2="213.41" y2="105.76" stroke="#d4dcaa" stroke-width="0.5"/>
<line x1="214.55" y1="101.39" x2="212.13" y2="107.20" stroke="#d4dcaa" stroke-width="0.5"/>
<line x1="208.32" y1="105.80" x2="208.48" y2="113.28" stroke="#a4d2c6" stroke-width="0.5"/>
<line x1="208.32" y1="105.80" x2="205.88" y2="113.06" stroke="#a4d2c6" stroke-width="0.5"/>
<line x1="208.32" y1="105.80" x2="204.60" y2="108.62" stroke="#a4d2c6" stroke-width="0.5"/>
<line x1="201.77" y1="104.50" x2="201.97" y2="108.60" stroke="#a4d2c6" stroke-width="0.5"/>
<line x1="201.77" y1="104.50" x2="199.53" y2="108.02" stroke="#a4d2c6" stroke-width="0.5"/>
<line x1="201.77" y1="104.50" x2="193.20" y2="110.98" stroke="#a4d2c6" stroke-width="0.5"/>
<line x1="196.46" y1="100.29" x2="195.44" y2="104.82" stroke="#a4d2c6" stroke-width="0.5"/>
<line x1="196.46" y1="100.29" x2="192.39" y2="106.01" stroke="#a4d2c6" stroke-width="0.5"/>
<line x1="196.46" y1="100.29" x2="189.92" y2="106.04" stroke="#a4d2c6" stroke-width="0.5"/>
<line x1="196.46" y1="100.29" x2="187.98" y2="106.83" stroke="#a4d2c6" stroke-width="0.5"/>
<line x1="196.46" y1="100.29" x2="189.57" y2="102.92" stroke="#a4d2c6" stroke-width="0.5"/>
<line x1="196.46" y1="100.29" x2="185.41" y2="104.38" stroke="#a4d2c6" stroke-width="0.5"/>
<line x1="197.40" y1="93.04" x2="187.70" y2="99.80" stroke="#b4dae2" stroke-width="0.5"/>
<line x1="197.40" y1="93.04" x2="187.56" y2="98.84" stroke="#b4dae2" stroke-width="0.5"/>
<line x1="197.40" y1="93.04" x2="192.74" y2="94.51" stroke="#b4dae2" stroke-width="0.5"/>
<line x1="197.40" y1="93.04" x2="191.69" y2="93.46" stroke="#b4dae2" stroke-width="0.5"/>
<line x1="201.54" y1="86.66" x2="193.92" y2="89.23" stroke="#b4dae2" stroke-width="0.5"/>
<line x1="201.54" y1="86.66" x2="190.27" y2="88.47" stroke="#b4dae2" stroke-width="0.5"/>
<line x1="201.54" y1="86.66" x2="194.54" y2="86.15" stroke="#b4dae2" stroke-width="0.5"/>
<line x1="197.11" y1="83.42" x2="185.25" y2="85.07" stroke="#b4dae2" stroke-width="0.5"/>
<line x1="197.11" y1="83.42" x2="187.73" y2="83.78" stroke="#b4dae2" stroke-width="0.5"/>
<line x1="197.11" y1="83.42" x2="190.99" y2="83.16" stroke="#b4dae2" stroke-width="0.5"/>
<line x1="197.11" y1="83.42" x2="193.52" y2="82.57" stroke="#b4dae2" stroke-width="0.5"/>
<line x1="197.11" y1="83.42" x2="192.80" y2="81.50" stroke="#b4dae2" stroke-width="0.5"/>
<line x1="192.49" y1="80.51" x2="172.19" y2="77.12" stroke="#6f8a84" stroke-width="1.2" stroke-dasharray="0.7 0.6 0.9 1.1" opacity="0.9"/>
<line x1="193.09" y1="78.84" x2="178.84" y2="75.35" stroke="#6f8a84" stroke-width="1.2" stroke-dasharray="0.7 0.6 0.9 1.1" opacity="0.9"/>
<line x1="197.38" y1="78.18" x2="182.57" y2="73.18" stroke="#6f8a84" stroke-width="1.2" stroke-dasharray="0.7 0.6 0.9 1.1" opacity="0.9"/>
<line x1="186.41" y1="70.31" x2="164.32" y2="59.72" stroke="#6f8a84" stroke-width="1.2" stroke-dasharray="0.7 0.6 0.9 1.1" opacity="0.9"/>
<line x1="187.51" y1="69.04" x2="174.42" y2="61.94" stroke="#6f8a84" stroke-width="1.2" stroke-dasharray="0.7 0.6 0.9 1.1" opacity="0.9"/>
<line x1="189.04" y1="66.98" x2="175.29" y2="58.04" stroke="#6f8a84" stroke-width="1.2" stroke-dasharray="0.7 0.6 0.9 1.1" opacity="0.9"/>
<line x1="192.60" y1="65.98" x2="180.18" y2="56.12" stroke="#6f8a84" stroke-width="1.2" stroke-dasharray="0.7 0.6 0.9 1.1" opacity="0.9"/>
<line x1="196.81" y1="67.87" x2="184.93" y2="57.52" stroke="#6f8a84" stroke-width="1.2" stroke-dasharray="0.7 0.6 0.9 1.1" opacity="0.9"/>
<line x1="195.20" y1="64.61" x2="177.07" y2="47.19" stroke="#6f8a84" stroke-width="1.2" stroke-dasharray="0.7 0.6 0.9 1.1" opacity="0.9"/>
<line x1="196.19" y1="64.03" x2="176.78" y2="43.87" stroke="#6f8a84" stroke-width="1.2" stroke-dasharray="0.7 0.6 0.9 1.1" opacity="0.9"/>
<line x1="194.78" y1="60.54" x2="181.22" y2="45.15" stroke="#6f8a84" stroke-width="1.2" stroke-dasharray="0.7 0.6 0.9 1.1" opacity="0.9"/>
<line x1="202.24" y1="67.26" x2="188.02" y2="49.29" stroke="#6f8a84" stroke-width="1.2" stroke-dasharray="0.7 0.6 0.9 1.1" opacity="0.9"/>
<line x1="202.59" y1="65.33" x2="188.38" y2="44.81" stroke="#6f8a84" stroke-width="1.2" stroke-dasharray="0.7 0.6 0.9 1.1" opacity="0.9"/>
<line x1="203.24" y1="64.23" x2="194.27" y2="49.82" stroke="#6f8a84" stroke-width="1.2" stroke-dasharray="0.7 0.6 0.9 1.1" opacity="0.9"/>
<line x1="202.75" y1="60.13" x2="192.53" y2="41.11" stroke="#6f8a84" stroke-width="1.2" stroke-dasharray="0.7 0.6 0.9 1.1" opacity="0.9"/>
<line x1="208.22" y1="64.73" x2="199.97" y2="43.32" stroke="#6f8a84" stroke-width="1.2" stroke-dasharray="0.7 0.6 0.9 1.1" opacity="0.9"/>
<line x1="210.14" y1="66.73" x2="205.36" y2="51.80" stroke="#6f8a84" stroke-width="1.2" stroke-dasharray="0.7 0.6 0.9 1.1" opacity="0.9"/>
<line x1="209.12" y1="61.14" x2="204.93" y2="46.55" stroke="#6f8a84" stroke-width="1.2" stroke-dasharray="0.7 0.6 0.9 1.1" opacity="0.9"/>
<line x1="211.24" y1="64.19" x2="205.88" y2="40.38" stroke="#6f8a84" stroke-width="1.2" stroke-dasharray="0.7 0.6 0.9 1.1" opacity="0.9"/>
<line x1="211.91" y1="62.80" x2="207.15" y2="36.33" stroke="#6f8a84" stroke-width="1.2" stroke-dasharray="0.7 0.6 0.9 1.1" opacity="0.9"/>
<line x1="212.45" y1="57.95" x2="209.57" y2="35.24" stroke="#6f8a84" stroke-width="1.2" stroke-dasharray="0.7 0.6 0.9 1.1" opacity="0.9"/>
<line x1="213.61" y1="60.75" x2="211.09" y2="33.58" stroke="#6f8a84" stroke-width="1.2" stroke-dasharray="0.7 0.6 0.9 1.1" opacity="0.9"/>
<line x1="214.33" y1="55.02" x2="213.19" y2="32.11" stroke="#6f8a84" stroke-width="1.2" stroke-dasharray="0.7 0.6 0.9 1.1" opacity="0.9"/>
<line x1="215.33" y1="59.63" x2="214.98" y2="40.63" stroke="#6f8a84" stroke-width="1.2" stroke-dasharray="0.7 0.6 0.9 1.1" opacity="0.9"/>
<line x1="216.25" y1="59.37" x2="216.68" y2="35.47" stroke="#6f8a84" stroke-width="1.2" stroke-dasharray="0.7 0.6 0.9 1.1" opacity="0.9"/>
<line x1="217.94" y1="54.43" x2="219.81" y2="28.21" stroke="#6f8a84" stroke-width="1.2" stroke-dasharray="0.7 0.6 0.9 1.1" opacity="0.9"/>
<line x1="218.01" y1="62.66" x2="219.85" y2="44.55" stroke="#868080" stroke-width="1.2" stroke-dasharray="0.7 0.6 0.9 1.1" opacity="0.9"/>
<line x1="220.37" y1="59.75" x2="223.78" y2="41.33" stroke="#868080" stroke-width="1.2" stroke-dasharray="0.7 0.6 0.9 1.1" opacity="0.9"/>
<line x1="221.47" y1="61.55" x2="226.44" y2="41.51" stroke="#868080" stroke-width="1.2" stroke-dasharray="0.7 0.6 0.9 1.1" opacity="0.9"/>
<line x1="228.80" y1="50.53" x2="238.01" y2="26.52" stroke="#868080" stroke-width="1.2" stroke-dasharray="0.7 0.6 0.9 1.1" opacity="0.9"/>
<line x1="230.24" y1="54.20" x2="239.37" y2="35.11" stroke="#868080" stroke-width="1.2" stroke-dasharray="0.7 0.6 0.9 1.1" opacity="0.9"/>
<line x1="231.84" y1="55.82" x2="242.21" y2="37.32" stroke="#868080" stroke-width="1.2" stroke-dasharray="0.7 0.6 0.9 1.1" opacity="0.9"/>
<line x1="232.86" y1="57.47" x2="240.85" y2="44.84" stroke="#6f8690" stroke-width="1.2" stroke-dasharray="0.7 0.6 0.9 1.1" opacity="0.9"/>
<line x1="232.95" y1="59.57" x2="241.95" y2="46.55" stroke="#6f8690" stroke-width="1.2" stroke-dasharray="0.7 0.6 0.9 1.1" opacity="0.9"/>
<line x1="233.59" y1="61.44" x2="248.87" y2="41.71" stroke="#6f8690" stroke-width="1.2" stroke-dasharray="0.7 0.6 0.9 1.1" opacity="0.9"/>
<line x1="235.47" y1="61.55" x2="247.57" y2="47.49" stroke="#6f8690" stroke-width="1.2" stroke-dasharray="0.7 0.6 0.9 1.1" opacity="0.9"/>
<line x1="237.62" y1="60.87" x2="248.65" y2="48.98" stroke="#6f8690" stroke-width="1.2" stroke-dasharray="0.7 0.6 0.9 1.1" opacity="0.9"/>
<line x1="243.05" y1="58.27" x2="254.77" y2="47.02" stroke="#6f8690" stroke-width="1.2" stroke-dasharray="0.7 0.6 0.9 1.1" opacity="0.9"/>
<line x1="235.45" y1="69.45" x2="253.45" y2="55.75" stroke="#6f8690" stroke-width="1.2" stroke-dasharray="0.7 0.6 0.9 1.1" opacity="0.9"/>
<line x1="234.98" y1="72.30" x2="249.94" y2="62.85" stroke="#6f8690" stroke-width="1.2" stroke-dasharray="0.7 0.6 0.9 1.1" opacity="0.9"/>
<line x1="234.81" y1="74.82" x2="258.41" y2="62.93" stroke="#6f8690" stroke-width="1.2" stroke-dasharray="0.7 0.6 0.9 1.1" opacity="0.9"/>
<line x1="247.53" y1="72.56" x2="272.39" y2="63.29" stroke="#5c98a4" stroke-width="1.2" stroke-dasharray="0.7 0.6 0.9 1.1" opacity="0.9"/>
<line x1="243.40" y1="74.27" x2="259.36" y2="68.40" stroke="#5c98a4" stroke-width="1.2" stroke-dasharray="0.7 0.6 0.9 1.1" opacity="0.9"/>
<line x1="245.19" y1="74.90" x2="271.86" y2="66.28" stroke="#5c98a4" stroke-width="1.2" stroke-dasharray="0.7 0.6 0.9 1.1" opacity="0.9"/>
<line x1="242.65" y1="76.10" x2="269.98" y2="67.65" stroke="#5c98a4" stroke-width="1.2" stroke-dasharray="0.7 0.6 0.9 1.1" opacity="0.9"/>
<line x1="248.47" y1="75.84" x2="275.77" y2="68.68" stroke="#5c98a4" stroke-width="1.2" stroke-dasharray="0.7 0.6 0.9 1.1" opacity="0.9"/>
<line x1="245.22" y1="77.11" x2="271.59" y2="70.59" stroke="#5c98a4" stroke-width="1.2" stroke-dasharray="0.7 0.6 0.9 1.1" opacity="0.9"/>
<line x1="248.20" y1="78.19" x2="270.30" y2="73.96" stroke="#5c98a4" stroke-width="1.2" stroke-dasharray="0.7 0.6 0.9 1.1" opacity="0.9"/>
<line x1="246.62" y1="78.79" x2="266.49" y2="75.17" stroke="#5c98a4" stroke-width="1.2" stroke-dasharray="0.7 0.6 0.9 1.1" opacity="0.9"/>
<line x1="247.91" y1="80.15" x2="268.02" y2="77.49" stroke="#5c98a4" stroke-width="1.2" stroke-dasharray="0.7 0.6 0.9 1.1" opacity="0.9"/>
<line x1="235.49" y1="83.04" x2="253.13" y2="81.83" stroke="#73909c" stroke-width="1.2" stroke-dasharray="0.7 0.6 0.9 1.1" opacity="0.9"/>
<line x1="241.87" y1="84.67" x2="265.80" y2="84.92" stroke="#73909c" stroke-width="1.2" stroke-dasharray="0.7 0.6 0.9 1.1" opacity="0.9"/>
<line x1="239.58" y1="86.17" x2="265.66" y2="88.12" stroke="#73909c" stroke-width="1.2" stroke-dasharray="0.7 0.6 0.9 1.1" opacity="0.9"/>
<line x1="247.34" y1="87.39" x2="265.58" y2="89.12" stroke="#73909c" stroke-width="1.2" stroke-dasharray="0.7 0.6 0.9 1.1" opacity="0.9"/>
<line x1="247.63" y1="87.97" x2="265.49" y2="89.97" stroke="#73909c" stroke-width="1.2" stroke-dasharray="0.7 0.6 0.9 1.1" opacity="0.9"/>
<line x1="249.03" y1="89.87" x2="265.14" y2="92.52" stroke="#73909c" stroke-width="1.2" stroke-dasharray="0.7 0.6 0.9 1.1" opacity="0.9"/>
<line x1="248.67" y1="90.59" x2="264.94" y2="93.65" stroke="#73909c" stroke-width="1.2" stroke-dasharray="0.7 0.6 0.9 1.1" opacity="0.9"/>
<line x1="241.28" y1="89.93" x2="257.62" y2="93.47" stroke="#73909c" stroke-width="1.2" stroke-dasharray="0.7 0.6 0.9 1.1" opacity="0.9"/>
<line x1="246.84" y1="92.93" x2="262.87" y2="97.33" stroke="#73909c" stroke-width="1.2" stroke-dasharray="0.7 0.6 0.9 1.1" opacity="0.9"/>
<line x1="247.35" y1="96.24" x2="260.82" y2="101.30" stroke="#73909c" stroke-width="1.2" stroke-dasharray="0.7 0.6 0.9 1.1" opacity="0.9"/>
<line x1="248.06" y1="98.73" x2="261.50" y2="104.69" stroke="#73909c" stroke-width="1.2" stroke-dasharray="0.7 0.6 0.9 1.1" opacity="0.9"/>
<line x1="242.73" y1="97.66" x2="260.66" y2="106.48" stroke="#73909c" stroke-width="1.2" stroke-dasharray="0.7 0.6 0.9 1.1" opacity="0.9"/>
<line x1="248.24" y1="101.40" x2="260.09" y2="107.61" stroke="#73909c" stroke-width="1.2" stroke-dasharray="0.7 0.6 0.9 1.1" opacity="0.9"/>
<line x1="244.61" y1="101.05" x2="259.09" y2="109.42" stroke="#73909c" stroke-width="1.2" stroke-dasharray="0.7 0.6 0.9 1.1" opacity="0.9"/>
<line x1="241.48" y1="100.27" x2="258.33" y2="110.68" stroke="#73909c" stroke-width="1.2" stroke-dasharray="0.7 0.6 0.9 1.1" opacity="0.9"/>
<line x1="240.90" y1="102.37" x2="256.45" y2="113.51" stroke="#73909c" stroke-width="1.2" stroke-dasharray="0.7 0.6 0.9 1.1" opacity="0.9"/>
<line x1="240.30" y1="104.09" x2="253.05" y2="114.34" stroke="#73909c" stroke-width="1.2" stroke-dasharray="0.7 0.6 0.9 1.1" opacity="0.9"/>
<line x1="237.15" y1="102.72" x2="253.74" y2="116.96" stroke="#73909c" stroke-width="1.2" stroke-dasharray="0.7 0.6 0.9 1.1" opacity="0.9"/>
<line x1="235.30" y1="105.27" x2="253.78" y2="125.04" stroke="#85995c" stroke-width="1.2" stroke-dasharray="0.7 0.6 0.9 1.1" opacity="0.9"/>
<line x1="233.01" y1="105.51" x2="247.75" y2="123.59" stroke="#85995c" stroke-width="1.2" stroke-dasharray="0.7 0.6 0.9 1.1" opacity="0.9"/>
<line x1="234.20" y1="109.80" x2="243.53" y2="122.68" stroke="#85995c" stroke-width="1.2" stroke-dasharray="0.7 0.6 0.9 1.1" opacity="0.9"/>
<line x1="230.12" y1="106.74" x2="240.36" y2="122.73" stroke="#85995c" stroke-width="1.2" stroke-dasharray="0.7 0.6 0.9 1.1" opacity="0.9"/>
<line x1="230.06" y1="112.27" x2="240.07" y2="131.84" stroke="#85995c" stroke-width="1.2" stroke-dasharray="0.7 0.6 0.9 1.1" opacity="0.9"/>
<line x1="226.59" y1="109.85" x2="235.66" y2="131.22" stroke="#85995c" stroke-width="1.2" stroke-dasharray="0.7 0.6 0.9 1.1" opacity="0.9"/>
<line x1="224.42" y1="110.16" x2="231.91" y2="132.54" stroke="#85995c" stroke-width="1.2" stroke-dasharray="0.7 0.6 0.9 1.1" opacity="0.9"/>
<line x1="224.82" y1="119.59" x2="229.21" y2="136.69" stroke="#85995c" stroke-width="1.2" stroke-dasharray="0.7 0.6 0.9 1.1" opacity="0.9"/>
<line x1="222.75" y1="115.68" x2="227.32" y2="136.24" stroke="#85995c" stroke-width="1.2" stroke-dasharray="0.7 0.6 0.9 1.1" opacity="0.9"/>
<line x1="221.84" y1="118.20" x2="225.66" y2="139.57" stroke="#85995c" stroke-width="1.2" stroke-dasharray="0.7 0.6 0.9 1.1" opacity="0.9"/>
<line x1="219.95" y1="115.14" x2="222.12" y2="131.20" stroke="#85995c" stroke-width="1.2" stroke-dasharray="0.7 0.6 0.9 1.1" opacity="0.9"/>
<line x1="218.48" y1="121.06" x2="220.17" y2="144.24" stroke="#85995c" stroke-width="1.2" stroke-dasharray="0.7 0.6 0.9 1.1" opacity="0.9"/>
<line x1="215.77" y1="106.41" x2="215.74" y2="137.56" stroke="#85995c" stroke-width="1.2" stroke-dasharray="0.7 0.6 0.9 1.1" opacity="0.9"/>
<line x1="214.77" y1="108.80" x2="213.42" y2="140.59" stroke="#85995c" stroke-width="1.2" stroke-dasharray="0.7 0.6 0.9 1.1" opacity="0.9"/>
<line x1="213.41" y1="105.76" x2="210.99" y2="127.39" stroke="#85995c" stroke-width="1.2" stroke-dasharray="0.7 0.6 0.9 1.1" opacity="0.9"/>
<line x1="212.13" y1="107.20" x2="209.35" y2="124.50" stroke="#85995c" stroke-width="1.2" stroke-dasharray="0.7 0.6 0.9 1.1" opacity="0.9"/>
<line x1="208.48" y1="113.28" x2="201.94" y2="139.12" stroke="#5a9686" stroke-width="1.2" stroke-dasharray="0.7 0.6 0.9 1.1" opacity="0.9"/>
<line x1="205.88" y1="113.06" x2="199.57" y2="131.31" stroke="#5a9686" stroke-width="1.2" stroke-dasharray="0.7 0.6 0.9 1.1" opacity="0.9"/>
<line x1="204.60" y1="108.62" x2="191.79" y2="136.33" stroke="#5a9686" stroke-width="1.2" stroke-dasharray="0.7 0.6 0.9 1.1" opacity="0.9"/>
<line x1="201.97" y1="108.60" x2="188.07" y2="132.93" stroke="#5a9686" stroke-width="1.2" stroke-dasharray="0.7 0.6 0.9 1.1" opacity="0.9"/>
<line x1="199.53" y1="108.02" x2="187.29" y2="125.82" stroke="#5a9686" stroke-width="1.2" stroke-dasharray="0.7 0.6 0.9 1.1" opacity="0.9"/>
<line x1="193.20" y1="110.98" x2="181.12" y2="125.19" stroke="#5a9686" stroke-width="1.2" stroke-dasharray="0.7 0.6 0.9 1.1" opacity="0.9"/>
<line x1="195.44" y1="104.82" x2="184.82" y2="115.47" stroke="#5a9686" stroke-width="1.2" stroke-dasharray="0.7 0.6 0.9 1.1" opacity="0.9"/>
<line x1="192.39" y1="106.01" x2="181.14" y2="116.38" stroke="#5a9686" stroke-width="1.2" stroke-dasharray="0.7 0.6 0.9 1.1" opacity="0.9"/>
<line x1="189.92" y1="106.04" x2="171.31" y2="121.60" stroke="#5a9686" stroke-width="1.2" stroke-dasharray="0.7 0.6 0.9 1.1" opacity="0.9"/>
<line x1="187.98" y1="106.83" x2="176.14" y2="116.36" stroke="#5a9686" stroke-width="1.2" stroke-dasharray="0.7 0.6 0.9 1.1" opacity="0.9"/>
<line x1="189.57" y1="102.92" x2="173.14" y2="114.52" stroke="#5a9686" stroke-width="1.2" stroke-dasharray="0.7 0.6 0.9 1.1" opacity="0.9"/>
<line x1="185.41" y1="104.38" x2="169.68" y2="114.72" stroke="#5a9686" stroke-width="1.2" stroke-dasharray="0.7 0.6 0.9 1.1" opacity="0.9"/>
<line x1="187.70" y1="99.80" x2="171.29" y2="108.79" stroke="#76a4ae" stroke-width="1.2" stroke-dasharray="0.7 0.6 0.9 1.1" opacity="0.9"/>
<line x1="187.56" y1="98.84" x2="165.02" y2="110.37" stroke="#76a4ae" stroke-width="1.2" stroke-dasharray="0.7 0.6 0.9 1.1" opacity="0.9"/>
<line x1="192.74" y1="94.51" x2="172.57" y2="103.35" stroke="#76a4ae" stroke-width="1.2" stroke-dasharray="0.7 0.6 0.9 1.1" opacity="0.9"/>
<line x1="191.69" y1="93.46" x2="165.04" y2="103.48" stroke="#76a4ae" stroke-width="1.2" stroke-dasharray="0.7 0.6 0.9 1.1" opacity="0.9"/>
<line x1="193.92" y1="89.23" x2="176.92" y2="92.98" stroke="#76a4ae" stroke-width="1.2" stroke-dasharray="0.7 0.6 0.9 1.1" opacity="0.9"/>
<line x1="190.27" y1="88.47" x2="174.55" y2="90.98" stroke="#76a4ae" stroke-width="1.2" stroke-dasharray="0.7 0.6 0.9 1.1" opacity="0.9"/>
<line x1="194.54" y1="86.15" x2="171.71" y2="88.03" stroke="#76a4ae" stroke-width="1.2" stroke-dasharray="0.7 0.6 0.9 1.1" opacity="0.9"/>
<line x1="185.25" y1="85.07" x2="165.08" y2="85.51" stroke="#76a4ae" stroke-width="1.2" stroke-dasharray="0.7 0.6 0.9 1.1" opacity="0.9"/>
<line x1="187.73" y1="83.78" x2="162.29" y2="83.23" stroke="#76a4ae" stroke-width="1.2" stroke-dasharray="0.7 0.6 0.9 1.1" opacity="0.9"/>
<line x1="190.99" y1="83.16" x2="176.03" y2="82.42" stroke="#76a4ae" stroke-width="1.2" stroke-dasharray="0.7 0.6 0.9 1.1" opacity="0.9"/>
<line x1="193.52" y1="82.57" x2="166.28" y2="80.33" stroke="#76a4ae" stroke-width="1.2" stroke-dasharray="0.7 0.6 0.9 1.1" opacity="0.9"/>
<line x1="192.80" y1="81.50" x2="177.40" y2="79.57" stroke="#76a4ae" stroke-width="1.2" stroke-dasharray="0.7 0.6 0.9 1.1" opacity="0.9"/>
<circle cx="215.80" cy="84.40" r="7.40" fill="#fff" stroke="#c9d6da" stroke-width="0.4"/>
<text x="174.40" y="33.77" font-size="3.4" text-anchor="middle" fill="#555" stroke="#555" stroke-width="0.08" >TK</text>
<text x="230.80" y="20.27" font-size="3.4" text-anchor="middle" fill="#c05a70" stroke="#c05a70" stroke-width="0.08" >TKL</text>
<text x="264.60" y="42.17" font-size="3.4" text-anchor="middle" fill="#666" stroke="#666" stroke-width="0.08" >STE</text>
<text x="275.60" y="62.57" font-size="3.4" text-anchor="middle" fill="#3f8fa3" stroke="#3f8fa3" stroke-width="0.08" >CK1</text>
<text x="277.80" y="97.87" font-size="3.4" text-anchor="middle" fill="#666" stroke="#666" stroke-width="0.08" >AGC</text>
<text x="240.20" y="145.47" font-size="3.4" text-anchor="middle" fill="#777" stroke="#777" stroke-width="0.08" >CAMK</text>
<text x="185.20" y="141.57" font-size="3.4" text-anchor="middle" fill="#555" stroke="#555" stroke-width="0.08" >CMGC</text>
<text x="156.30" y="98.67" font-size="3.4" text-anchor="middle" fill="#4a7fb0" stroke="#4a7fb0" stroke-width="0.08" >OTHER</text>
<path d="M202,38.8 L204.8,48.2" stroke="#d7191f" stroke-width="4.2" stroke-linecap="round"/>
<circle cx="202.00" cy="38.80" r="3.80" fill="#d7191f" />
<circle cx="204.80" cy="48.20" r="2.90" fill="#d7191f" />
<circle cx="217.60" cy="60.70" r="5.00" fill="#d7191f" stroke="#a3131a" stroke-width="0.60"/>
<circle cx="258.30" cy="58.90" r="2.70" fill="#d7191f" stroke="#a3131a" stroke-width="0.60"/>
<circle cx="278.40" cy="66.70" r="1.30" fill="#8e1832" stroke="#6e1226" stroke-width="0.33"/>
<circle cx="256.50" cy="65.40" r="1.30" fill="#8e1832" stroke="#6e1226" stroke-width="0.33"/>
<circle cx="243.30" cy="62.00" r="1.20" fill="#8e1832" stroke="#6e1226" stroke-width="0.30"/>
<circle cx="199.50" cy="55.10" r="1.50" fill="#8e1832" stroke="#6e1226" stroke-width="0.38"/>
<circle cx="187.00" cy="60.70" r="1.50" fill="#8e1832" stroke="#6e1226" stroke-width="0.38"/>
<circle cx="190.70" cy="70.70" r="1.50" fill="#8e1832" stroke="#6e1226" stroke-width="0.38"/>
<circle cx="191.70" cy="74.50" r="1.50" fill="#8e1832" stroke="#6e1226" stroke-width="0.38"/>
<circle cx="198.90" cy="71.70" r="1.30" fill="#8e1832" stroke="#6e1226" stroke-width="0.33"/>
<circle cx="151.30" cy="78.60" r="2.20" fill="#d7191f" stroke="#a3131a" stroke-width="0.55"/>
<circle cx="159.40" cy="80.50" r="1.30" fill="#8e1832" stroke="#6e1226" stroke-width="0.33"/>
<circle cx="175.10" cy="85.80" r="1.50" fill="#8e1832" stroke="#6e1226" stroke-width="0.38"/>
<circle cx="177.60" cy="86.10" r="1.50" fill="#8e1832" stroke="#6e1226" stroke-width="0.38"/>
<circle cx="183.80" cy="84.80" r="2.20" fill="#d7191f" stroke="#a3131a" stroke-width="0.55"/>
<circle cx="177.00" cy="95.20" r="1.30" fill="#8e1832" stroke="#6e1226" stroke-width="0.33"/>
<circle cx="191.70" cy="115.20" r="1.50" fill="#8e1832" stroke="#6e1226" stroke-width="0.38"/>
<circle cx="193.20" cy="117.70" r="1.50" fill="#8e1832" stroke="#6e1226" stroke-width="0.38"/>
<circle cx="196.40" cy="109.90" r="1.40" fill="#8e1832" stroke="#6e1226" stroke-width="0.35"/>
<circle cx="209.50" cy="116.10" r="1.40" fill="#8e1832" stroke="#6e1226" stroke-width="0.35"/>
<circle cx="213.00" cy="110.50" r="1.40" fill="#8e1832" stroke="#6e1226" stroke-width="0.35"/>
<text x="314.50" y="43.81" font-size="6.4" text-anchor="middle" textLength="48.30" lengthAdjust="spacingAndGlyphs" fill="#222" stroke="#222" stroke-width="0.08" >Zharp1–211-HCl</text>
<text x="314.50" y="51.41" font-size="6.4" text-anchor="middle" textLength="32.00" lengthAdjust="spacingAndGlyphs" fill="#222" stroke="#222" stroke-width="0.08" >(10000nM)</text>
<text x="314.70" y="61.95" font-size="6.8" text-anchor="middle" textLength="47.80" lengthAdjust="spacingAndGlyphs" fill="#222" stroke="#222" stroke-width="0.08" >Percent Control</text>
<circle cx="300.50" cy="69.80" r="5.10" fill="#d7191f" stroke="#a3131a" stroke-width="0.60"/>
<text x="312.60" y="71.73" font-size="5.6" fill="#222" stroke="#222" stroke-width="0.08" >0%</text>
<circle cx="300.50" cy="82.30" r="4.10" fill="#d7191f" stroke="#a3131a" stroke-width="0.60"/>
<text x="310.50" y="84.23" font-size="5.6" fill="#222" stroke="#222" stroke-width="0.08" >0.1%</text>
<circle cx="300.50" cy="94.00" r="3.70" fill="#d7191f" stroke="#a3131a" stroke-width="0.60"/>
<text x="307.90" y="95.93" font-size="5.6" fill="#222" stroke="#222" stroke-width="0.08" >0.1–1%</text>
<circle cx="300.50" cy="105.40" r="2.60" fill="#d7191f" stroke="#a3131a" stroke-width="0.60"/>
<text x="310.50" y="107.33" font-size="5.6" fill="#222" stroke="#222" stroke-width="0.08" >1–5%</text>
<circle cx="300.50" cy="114.00" r="1.70" fill="#d7191f" stroke="#a3131a" stroke-width="0.42"/>
<text x="308.70" y="115.93" font-size="5.6" fill="#222" stroke="#222" stroke-width="0.08" >5–10%</text>
<circle cx="300.50" cy="121.50" r="1.10" fill="#d7191f" stroke="#a3131a" stroke-width="0.28"/>
<text x="307.20" y="123.43" font-size="5.6" fill="#222" stroke="#222" stroke-width="0.08" >10–35%</text>
<circle cx="300.50" cy="128.60" r="0.45" fill="#d7191f" stroke="#a3131a" stroke-width="0.11"/>
<text x="309.30" y="130.53" font-size="5.6" fill="#222" stroke="#222" stroke-width="0.08" >&gt;35%</text>
</svg></body></html>
